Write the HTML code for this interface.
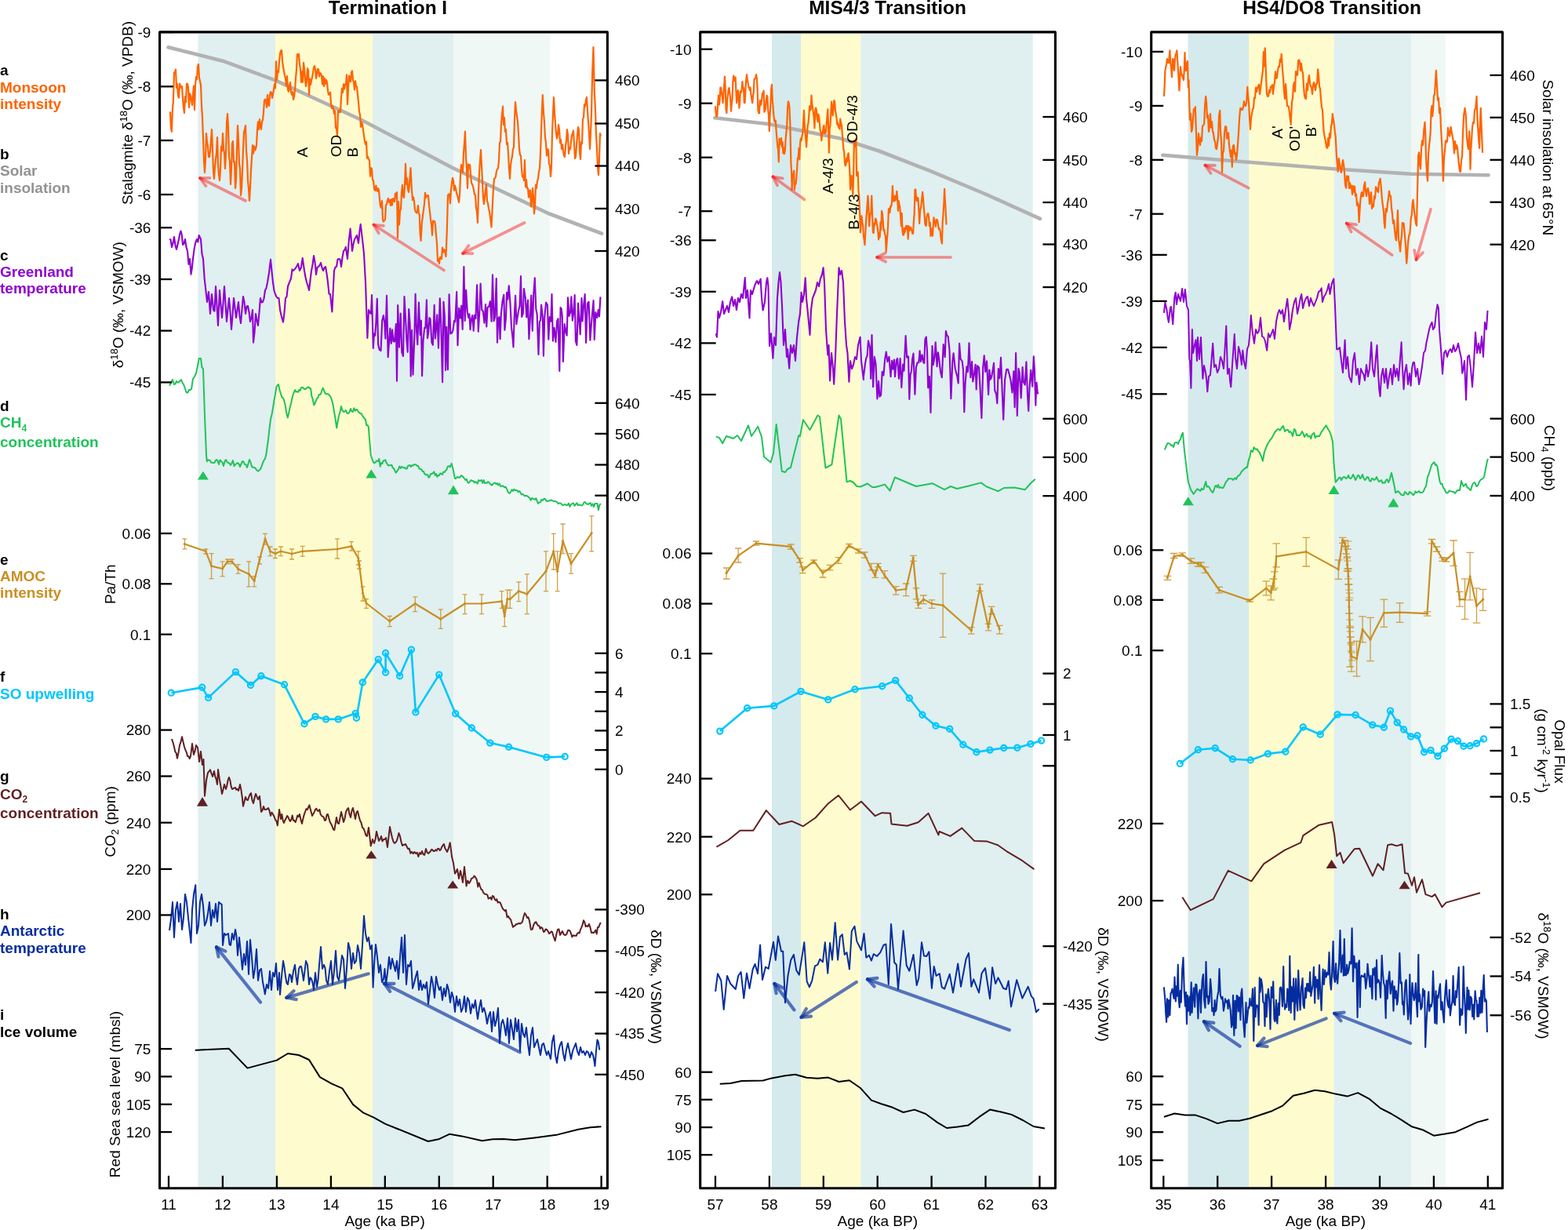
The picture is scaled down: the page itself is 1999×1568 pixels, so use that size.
<!DOCTYPE html>
<html><head><meta charset="utf-8"><title>Figure</title>
<style>html,body{margin:0;padding:0;background:#fff;}svg{display:block;}</style>
</head><body>
<svg xmlns="http://www.w3.org/2000/svg" width="1999" height="1568" viewBox="0 0 1999 1568" font-family='"Liberation Sans", Arial, Helvetica, sans-serif'>
<rect width="1999" height="1568" fill="#fff"/>
<rect x="252.4" y="42.8" width="98.6" height="1470" fill="#E0EFF0"/>
<rect x="351" y="42.8" width="124.1" height="1470" fill="#FEFCCE"/>
<rect x="475.1" y="42.8" width="102.9" height="1470" fill="#E0EFF0"/>
<rect x="578" y="42.8" width="123.2" height="1470" fill="#F0F8F6"/>
<rect x="984" y="42.8" width="37" height="1470" fill="#D5EAEC"/>
<rect x="1021" y="42.8" width="76.3" height="1470" fill="#FEFCCE"/>
<rect x="1097.3" y="42.8" width="219.4" height="1470" fill="#E0EFF0"/>
<rect x="1514.5" y="42.8" width="77.5" height="1470" fill="#D5EAEC"/>
<rect x="1592" y="42.8" width="108.6" height="1470" fill="#FEFCCE"/>
<rect x="1700.6" y="42.8" width="98.3" height="1470" fill="#E0EFF0"/>
<rect x="1798.9" y="42.8" width="44" height="1470" fill="#F0F8F6"/>
<path d="M214.5 60.3 L284 77.7 L351 102.4 L461 153 L577 214 L699 272 L767 297.6" fill="none" stroke="#B2B2B2" stroke-width="4.6" stroke-linejoin="round" stroke-linecap="round"/>
<path d="M216 143 L217 143.3 L217.9 161.9 L218.9 167.7 L219.9 140.1 L220.9 129.4 L222 92.7 L223 92 L224 88.6 L225 112 L226 107 L227 122.2 L228 124.7 L229 106.6 L230 109.6 L231 111.7 L232 110 L233 125.4 L234 137.2 L235 144 L236 123.1 L237 130.1 L238 106.7 L239 107 L240 111.2 L241 136.9 L242 119.3 L243 121.9 L244 128 L245 133.9 L246 120.7 L247 109.5 L248 140 L249 108 L250 98.2 L251 101.2 L252 84.6 L253 82 L254 98.9 L255 103.4 L256 108 L257 134 L258 150 L259 176.4 L260 205 L261 220 L262 202.6 L263 170 L264 181.2 L265 186.1 L266 200 L267 200.1 L268 192.3 L269 178.8 L270 165 L271 190.5 L272 218.5 L273 228 L274 212.6 L275 203.1 L276 194.6 L277 175 L278 209.2 L279 223.2 L280 230 L281 215.8 L282 186.8 L283 192.3 L284 170 L285 189.6 L286 195.1 L287 215 L288 196.8 L289 156.7 L290 145 L291 161.6 L292 200.1 L293 206 L294 235 L295 215.6 L296 182.9 L297 180 L298 206.5 L299 206.3 L300 240 L301 229.5 L302 190.7 L303 160 L304 177.8 L305 208.8 L306 215 L307 249 L308 240.1 L309 218.9 L310 190 L311 168.2 L312 165.4 L313 160 L314 192.1 L315 204.5 L316 230 L317 240.8 L318 256 L319 239 L320 217.4 L321 201.2 L322 185 L323 195.7 L324 186.3 L325 191.3 L326 190 L327 185.1 L328 165.9 L329 155.4 L330 165 L331 152 L332 161.2 L333 164.8 L334 155 L335 153.1 L336 143 L337 128.1 L338 126.7 L339 127 L340 136.9 L341 121 L342 133 L343 135 L344 121 L345 117.2 L346 118 L347 125 L348 120.3 L349 113.8 L350 107.2 L351 112.5 L352 78.4 L353 102 L354 90 L355 92.3 L356 79 L357 68.6 L358 64.7 L359 64.2 L360 78.2 L361 85 L362 91 L363 96.2 L364 100 L365 108.8 L366 97.2 L367 115 L368 116.6 L369 110.5 L370 105 L371 117 L372 120.7 L373 117.1 L374 127 L375 123 L376 114.7 L377 100 L378 88.4 L379 69.1 L380 71.8 L381 69 L382 82.6 L383 87.7 L384 105 L385 91.3 L386 104.6 L387 80 L388 88.2 L389 101.3 L390 110 L391 102 L392 87.1 L393 90 L394 120.7 L395 100.6 L396 108 L397 102.9 L398 98.3 L399 93.1 L400 86 L401 84.2 L402 88.4 L403 100 L404 94.3 L405 88 L406 88 L407 97.6 L408 93 L409 93.9 L410 97 L411 107.3 L412 97.4 L413 110 L414 100.1 L415 107 L416 102 L417 105 L418 115.9 L419 120.7 L420 120 L421 117.7 L422 133.4 L423 138.1 L424 135 L425 138.5 L426 144.9 L427 141.2 L428 162.2 L429 165 L430 172.3 L431 141.3 L432 143.6 L433 140 L434 143 L435 124.3 L436 112.9 L437 118 L438 107.3 L439 113.4 L440 107.5 L441 107 L442 95.3 L443 133 L444 112 L445 96.6 L446 100.9 L447 104.1 L448 92 L449 90.5 L450 102.1 L451 105 L452 114.5 L453 103.3 L454 110 L455 110.6 L456 120.9 L457 130 L458 142.4 L459 146.3 L460 161.7 L461 156 L462 158.1 L463 166.1 L464 172.8 L465 180 L466 184.1 L467 180.5 L468 201.8 L469 200 L470 202.6 L471 204.8 L472 224.7 L473 214 L474 215.4 L475 229.5 L476 230 L477.2 241.5 L478.5 243 L479.4 236.6 L480.2 242.3 L481.1 243.8 L482 240 L483 242.7 L484 254.1 L485 263.1 L486 265 L487 256.2 L488 280.1 L489 282.6 L490 281 L491 279.9 L492 261.2 L493 260.2 L494 255 L495 253 L496 257.8 L497 255.1 L498 262 L499 254.1 L500 261.4 L501 253 L502 255 L503 257.1 L504 246.7 L505 252.1 L506 245 L507 303.2 L508 257.2 L509 286.3 L510 268 L511 266.9 L512 245.4 L513 235.9 L514 250 L515 251.9 L516 236.6 L517 208.8 L518 235 L519 227.4 L520 241.3 L521 245 L522.2 231.6 L523.5 214 L524.8 239.8 L526 255 L527 251.3 L528 256.8 L529 268 L530 270 L531 271.4 L532 270.7 L533 262 L533.9 272 L534.8 273.8 L535.7 298.4 L536.6 307 L537.8 284.1 L539 275 L540 267.7 L541 259.7 L542 245.8 L543 252 L544 250.1 L545 249 L546 249.4 L547 261.9 L548 270 L549 279.9 L550 286.4 L551 300 L552 281.6 L553 281.8 L554 282 L555 286.8 L556 299.9 L557 310 L558 333 L559 330 L560 336 L561 327.9 L562 328.2 L563 330 L564 315.6 L565 321.6 L566 318 L567.2 320.1 L568.5 327 L569.8 294.1 L571 249 L572 247.7 L573 247.3 L574 259.3 L575 242 L576 233.5 L577 226.9 L578 230 L579 242.7 L580 236.7 L581 240 L582 245.9 L583 248.8 L584 252.9 L585 258 L586 248.6 L587 223.9 L588 210 L589 217.1 L590 220 L591 195.2 L592 182.7 L593 167.7 L594 201.1 L595 215.2 L596 240 L597 209.4 L598 213.7 L599 210 L600 222.3 L601 232.9 L602 235 L603 237.6 L604 242.2 L605 248 L606 248.4 L607 264.5 L608 270.3 L609 284 L610 245.1 L611 220 L612 205.2 L613 191 L614 210.7 L615 231.5 L616 251.8 L617 260 L618 251.6 L619 241.2 L620 235 L621 256.4 L622 258.8 L623 266 L624 270 L625.2 278.9 L626.5 289.5 L627.8 263.5 L629 240 L630 227.8 L631 227.4 L632 225 L633 218.1 L634 215.6 L635 214.7 L636 205 L637 182.1 L638 180.7 L639 157.5 L640 146.2 L641 135.7 L642 159.1 L643 150.1 L644 168 L645 165 L646 184 L647 181.7 L648 195 L649 215.5 L650 228 L651 210.8 L652 204 L653 199.6 L654 190 L655 188.1 L656 152.2 L657 130 L658 140.6 L659 147.8 L660 155.1 L661 170 L662 189.6 L663 197.5 L664 198.6 L665 215 L666 225.3 L667 224.1 L668 230 L669 204 L670 238.3 L671 229 L672 240 L673 240.2 L674 251.7 L675 242.9 L676 242.6 L677 263.4 L678 258.6 L679 239.8 L680 250 L681 272.5 L682 262.5 L683 235.6 L684 240 L685 230.8 L686 227.9 L687 218.7 L688 215 L689 196.3 L689.9 170.7 L690.8 143.8 L691.8 121 L692.9 142.5 L693.9 154.8 L695 175 L696 182.4 L697 198.4 L698 190 L699 191.2 L700 209.3 L701 211 L702 225 L703 212.4 L704 169 L705 145.1 L706 124 L707 144 L708 157.5 L709 170 L710 176.6 L711 171.8 L712 159.1 L713 165 L714 182.2 L715 178.1 L716 190 L717 184.4 L718 192.7 L719 198.3 L720 200 L721 186.1 L722 179 L723 165 L724 172.6 L725 195.8 L726 188.4 L727 190 L728 180.4 L729 172.7 L730 170 L731 166.5 L732 183.5 L733 202 L734 200 L735 185.4 L736 172.8 L737 162 L738 165.6 L739 193.8 L740 203 L741 181.2 L742 183.3 L743 151.5 L744 150 L745 133.4 L746 135.5 L747 127.3 L748 124 L749 141.3 L750 155 L751 169.7 L752 190 L753 170.3 L754 145 L755.2 92.2 L756.5 60 L757.8 116.6 L759 140 L760 172.1 L761 190 L762 212.7 L763 223 L764 203.2 L765 170 L766 173.5" fill="none" stroke="#FF6400" stroke-width="2.2" stroke-linejoin="round" />
<path d="M216 304.7 L217.5 305.5 L219 315 L220.5 310.1 L222 302 L223.5 312.9 L225 318 L226.5 311.7 L228 305 L229.2 298.3 L230.5 294.5 L231.8 299.5 L233 312 L234.5 310.5 L236 305 L237.5 315.1 L239 320 L240.5 336.9 L242 330 L243.5 349.6 L244.8 341.8 L246 330 L247.5 318.4 L249 310 L251 305 L252.3 308.5 L253.7 300 L256 305 L257.5 323.7 L259 330 L260.7 355.7 L262.4 370 L264 385 L266 372 L268 400 L270 375 L272 395 L273.5 396.7 L275 365 L276.5 389.4 L278 415 L280 370 L281.5 389.2 L283 405 L284.5 386.9 L286 365 L287.5 387.2 L289 410 L290.5 394.1 L292 380 L293.5 397.5 L295 420 L296.5 401.8 L298 380 L299.5 391.9 L301 405 L302.5 395.5 L304 385 L305.5 402.9 L307 412 L308.5 394.3 L310 378 L311.5 385.2 L313 400 L314.5 390.8 L316 390 L317.5 397.7 L319 410 L320.5 405.2 L322 395 L323 436.7 L324.5 423.8 L326 400 L327.5 408.5 L329 415 L330.5 398.1 L332 380 L333.5 385.6 L335 385 L336.5 380.5 L338 370 L339.5 367.3 L341 360 L343 347.7 L345 330.8 L346.5 346 L348 360 L349.5 370.7 L351 375 L352.5 378.6 L354 380 L355.5 380 L357 395 L359 403.9 L361 410.6 L362.5 398.7 L364 380 L365.5 378.4 L367 365 L369 359.9 L371 355 L372.5 343.4 L374 345 L376 342.9 L378 340 L380 336.2 L382 345 L383.9 341 L385.7 329 L388 345 L389.5 353.5 L391 360 L392.5 364.3 L394 370 L395.5 357.5 L397 345 L398.5 337.6 L400 326 L401.5 334.3 L403 350 L404.5 340.8 L406 340 L407.5 338.1 L409 335 L410.5 341.4 L412 345 L413.5 341.4 L415 340 L416.5 348.7 L418 360 L419.5 374.6 L421 375 L423.4 397.5 L424.7 370.7 L426 345 L427.5 340.5 L429 340 L430.5 330.7 L432 330 L433.5 330.8 L435 340 L436.5 328 L438 320 L439.4 318.5 L440.8 314.8 L443 330 L444.8 306.9 L446.6 291.6 L449 320 L450.5 311 L452 305 L453.5 302.7 L455 300 L457 310 L458.4 294.8 L459.7 285.8 L462 305 L464 323.5 L466 360 L468.4 430.9 L470 395 L471.5 398.5 L473 400 L474 376 L475.8 443.9 L477 425.4 L478.1 427.9 L479.3 413.2 L480.8 380.8 L482.1 439.2 L483.8 445.9 L485.5 447.2 L487.2 409.1 L488.9 402.1 L490.3 411.6 L491.4 431.6 L493 376.8 L494.7 455.3 L495.9 438.1 L497.3 418.6 L498.7 437.9 L500.1 420.3 L501.5 435.3 L503 435.4 L504.9 413 L506 485.7 L507.2 389 L508.9 442.7 L510.7 399.5 L512.3 449.2 L514 454.1 L515.5 378 L517.2 408.8 L518.4 433.1 L519.7 448.8 L521.2 394 L522.6 412.5 L523.7 479.6 L525 420.9 L526.5 477.7 L528.3 431.3 L529.6 374.7 L531 420.5 L532.3 439.2 L533.9 385.6 L535.6 427 L536.9 408.6 L538.1 479.3 L539.5 434.4 L541.2 417.9 L542.4 418.2 L543.9 382.4 L545 431.2 L546.1 424.3 L547.5 405 L548.6 407.1 L550.5 437.1 L551.9 439.8 L553.7 388.8 L554.9 431.4 L556 419 L557.3 401.3 L559 443.7 L560.8 380.4 L562.3 413.5 L564.1 487.3 L565.5 384.8 L567 404.8 L568.1 471.9 L569.2 416.9 L570.9 471.3 L572.6 375.2 L574.3 425.4 L576 424.5 L577.4 421.4 L579.1 408.9 L580.3 410.2 L582.2 372 L583.5 440.3 L585.2 392.7 L587 405.7 L588.2 389.7 L589.7 419.9 L591.4 340 L592.7 408.9 L594.2 369.7 L595.8 397.2 L597.2 404.9 L598.4 400.4 L599.5 420.2 L600.7 407.8 L602.3 402.1 L603.7 421.8 L605 401.8 L606.4 406.1 L608.1 363.2 L609.8 422.6 L611.4 395.7 L612.6 361.6 L614.3 395.3 L615.8 396.6 L617.5 411.7 L619 388 L620.3 416.4 L621.6 391.9 L623.4 390.6 L624.9 384.1 L626.6 409.7 L628 350.4 L629.6 409.2 L630.9 404.4 L632.8 355 L634 436.7 L635.1 407.2 L636.4 404.1 L637.6 432.2 L638.8 400.7 L640.6 383.7 L642.3 375.8 L643.4 420.8 L644.9 406.5 L646.1 372.8 L647.3 381.7 L648.8 364.2 L650.5 387 L652 417.4 L653.3 428.1 L654.5 442.5 L655.6 407.4 L657.1 376.7 L658.4 413.2 L659.4 406 L661.1 395.9 L662.5 390.2 L664 352 L665.2 403.9 L666.8 399.5 L667.9 368 L669.8 379.9 L671.3 404.4 L673 382.5 L674.4 432.1 L675.8 406.3 L677.3 376.5 L678.8 421.6 L680.2 375.5 L681.8 354.4 L683.3 393.8 L684.7 400.9 L686.5 452 L687.9 409.9 L689.1 408.6 L690.1 388.6 L691.9 405.1 L692.9 453.7 L694.3 404.2 L696.1 385.5 L697.9 388.8 L699.3 432.8 L700.8 404 L702.4 409.6 L703.5 375 L704.9 434.6 L706.6 417.8 L708.5 435.9 L710.2 408.9 L711.5 406.3 L713.3 472.9 L714.6 392.1 L715.7 393.6 L716.8 403 L717.9 460.9 L719.7 413.1 L721.6 423.9 L722.7 427.6 L724 379.2 L725.5 403 L727.1 398.3 L728.4 378.4 L729.8 408.6 L731 400.4 L732.7 376 L733.9 435.3 L735.4 440 L737.1 386.5 L738.5 409.1 L739.7 426.3 L741.5 380 L742.6 409.5 L744.2 388 L745.7 375 L747.1 436.9 L748.9 386.7 L750.6 384.8 L752.4 433.6 L753.9 413.1 L755 400.4 L756.6 383 L757.8 432.9 L759.3 398.1 L761.2 405 L762.8 395.1 L764 403.5 L765.5 378.4" fill="none" stroke="#8E00D0" stroke-width="2.1" stroke-linejoin="round" />
<path d="M216 491.8 L218 488 L220 484 L222 490 L223.5 489.5 L225 486 L226.5 487.7 L228 487 L229.5 485.4 L231 484 L232.5 487.9 L234 490 L235.8 494.7 L237.7 500.5 L239.3 500.5 L241 497 L242.5 497.1 L244 496 L246 483 L248 480 L250 476 L251.8 467.1 L253.7 457 L254.8 456.9 L256 457 L257.5 468.5 L259 470 L261 530 L263 580 L263.8 588.2 L265.2 586.1 L266.6 586.8 L268 587 L269.3 589.8 L270.7 589.8 L272 590 L273.3 589.9 L274.7 587.2 L276 586 L277.5 587.1 L279 592 L280.5 586.5 L282 588 L283.5 589.6 L285 594 L286.5 587.9 L288 586 L289.5 589 L291 590 L292.5 590.5 L294 593 L295.5 590.4 L297 587 L298.5 594.3 L300 592 L301.5 591.2 L303 590 L304.5 591.4 L306 595 L307.5 591.5 L309 588 L310.5 588.6 L312 592 L313.5 592.2 L315 596 L316.5 591.2 L318 586 L319.5 589.2 L321 595 L322.5 595.8 L324 596 L325.5 596.6 L327 599 L329 600.7 L330.5 599.5 L332 598 L333.5 594.6 L335 590 L336.4 586.8 L337.9 584.9 L339.3 579.5 L340.6 570 L342 560 L343.5 546.4 L345 534.5 L346.5 528.5 L348 520 L349.4 510.8 L350.9 502.9 L352.3 493.3 L353.6 491.5 L355 490 L356.5 497.2 L358 502 L359.3 506.3 L360.7 507.2 L362 510 L363.6 516.1 L365.2 526.6 L366.8 532.4 L368.4 525.5 L370 518 L371.5 512.3 L373 505 L374.5 501 L376 497 L377.3 499.6 L378.7 499.1 L380 500 L381.3 496.9 L382.7 497.9 L384 494 L385.3 494 L386.7 494.5 L388 496 L389.3 496.2 L390.7 494.8 L392 494 L393.3 493.3 L394.7 494.7 L396 495 L397.4 505 L398.8 509.3 L400.2 516.5 L401.5 514.2 L402.7 511.4 L404 508 L405.3 507.1 L406.7 503.1 L408 503 L409.3 501.7 L410.5 496.9 L411.8 494.7 L413.4 499 L415 502 L416.3 502.2 L417.7 502 L419 503 L420.3 504.3 L421.7 506.3 L423 510 L424.5 515.6 L426 525 L427.6 534 L429.2 545.5 L430.6 537.6 L432 530 L433.5 525.3 L435 518 L436.5 523.2 L438 525 L439.5 524.7 L441 523 L442.5 527 L444 527 L445.5 525.4 L447 521 L448.5 524.6 L450 525 L451.3 520.3 L452.7 523.6 L454 522 L455.3 522.3 L456.7 524.6 L458 526 L459.3 527.3 L460.7 527.2 L462 530 L463.3 531.7 L464.7 533.4 L466 535 L467.3 542.2 L468.5 541.9 L469.8 544 L471 560 L472.7 580 L473.9 583.5 L475 587 L476.8 590.2 L478.5 589.6 L480.2 587.4 L482 588 L483.3 585 L484.7 594.7 L486 590 L487.3 591.1 L488.7 587.4 L490 587 L491.3 586.4 L492.7 590 L494 592 L495.3 593.5 L496.7 593.2 L498 593 L499.3 592.7 L500.7 596.5 L502 597 L503.3 599.9 L504.6 602.7 L506.3 600.6 L508 598 L509.3 594.5 L510.7 596.9 L512 595 L513.3 595.4 L514.7 596.6 L516 596 L517.3 597.4 L518.7 597.6 L520 594 L521.3 593.5 L522.7 593 L524 595 L525.3 593.2 L526.7 593.4 L528 592 L529.3 592.4 L530.7 592.6 L532 594 L533.3 594.1 L534.7 597.7 L536 598 L537.3 598.2 L538.7 601.1 L540 601 L541.3 604.1 L542.7 605.2 L544 605 L545.3 605.3 L546.7 608.9 L548 607 L549.3 603.9 L550.7 604.1 L552 603 L553.3 601.3 L554.7 605.9 L556 604 L557.3 607.9 L558.7 605.8 L560 606 L561.3 603.5 L562.7 604 L564 605 L565.3 601.7 L566.7 601.9 L568 600 L569.3 598.9 L570.7 594.8 L572 594 L573.9 595.4 L575.7 591 L576.9 595.5 L578 600 L580 610 L581.3 609.9 L582.7 608.2 L584 608 L585.3 609.1 L586.7 608.2 L588 606 L589.3 606.8 L590.7 608.3 L592 610 L593.4 612 L594.8 610.8 L596.1 614.7 L597.5 615.7 L599 614 L600.5 612 L602 613 L603.3 612.9 L604.7 615.3 L606 614 L607.3 615.1 L608.7 616.7 L610 612 L611.3 613 L612.7 612.7 L614 612 L615.3 615.9 L616.7 612 L618 616 L619.3 615.5 L620.7 615.8 L622 614 L623.3 615.1 L624.7 616.5 L626 618 L627.3 618.6 L628.7 616.4 L630 616 L631.3 615.4 L632.7 617.1 L634 616 L635.3 618.4 L636.7 616.6 L638 620 L639.3 619.8 L640.7 619.3 L642 620 L643.3 621.3 L644.7 620.8 L646 623 L647.9 627.8 L649.7 628.8 L651.1 627 L652.6 624.2 L654 626 L655.3 623.9 L656.7 624.9 L658 625 L659.3 625.1 L660.7 627.3 L662 626 L663.3 627.4 L664.7 630.4 L666 630 L667.3 630.6 L668.7 632.2 L670 632 L671.3 632.1 L672.7 632.5 L674 634 L675.3 634.9 L676.7 637.7 L678 635 L679.3 635.7 L680.7 636.2 L682 637 L683.4 635 L684.7 638.7 L686 641.9 L687.4 640.4 L688.9 640.4 L690.5 636.7 L692 638 L693.5 635.7 L695 635.9 L696.5 638.6 L698 639 L699.5 638.6 L701 638.3 L702.5 637.4 L704 638 L705.5 639 L707 639.1 L708.5 639.3 L710 640 L711.6 642.1 L713.2 641.3 L714.8 641.6 L716.4 643.3 L717.8 644.2 L719.2 643.4 L720.6 642.9 L722 644 L723.5 644 L725 641.5 L726.5 645.9 L728 643 L729.5 642.1 L731 641.5 L732.5 644.8 L734 643 L735.5 641.2 L737 644.2 L738.5 643.4 L740 644 L741.5 644.4 L743 643.7 L744.5 640.4 L746 640 L747.3 642.2 L748.7 642.4 L750 643 L751.3 641.6 L752.7 641.1 L754 644.8 L755.5 642.3 L757 646.1 L758.5 641.9 L760 642 L761.5 641.9 L762.9 650.2 L764.3 644 L765.8 641.9" fill="none" stroke="#20C35A" stroke-width="2.0" stroke-linejoin="round" />
<path d="M235.4 693.5 L262.4 702.8 L269.6 721.6 L283.6 725 L290 715.8 L295.7 715.8 L303.6 725.4 L317.2 731.8 L324.2 740.5 L331 713 L338 686.8 L344.5 702.8 L350.9 705.7 L358 702.8 L372 706 L385.7 702.8 L430 700 L448 696.4 L456.8 711.5 L458 720 L462.6 756.5 L467 769 L496.8 792 L529.3 769.5 L561.8 789.3 L592.6 769.5 L614 769.5 L639.6 766.6 L643.3 785.5 L646.8 763.7 L650.3 763.7 L661.3 753.6 L671.8 757.3 L696 728.3 L705.7 702.8 L710.6 728.3 L717.6 689.7 L728 718.7 L754.2 679.6" fill="none" stroke="#C98F24" stroke-width="2.2" stroke-linejoin="round" />
<path d="M235.4 686.8 V699.9 M232.4 686.8 h6 M232.4 699.9 h6" stroke="#C98F24" stroke-width="1.3" fill="none" opacity="0.85"/>
<circle cx="235.4" cy="693.5" r="1.6" fill="#C98F24"/>
<path d="M262.4 700 V706 M259.4 700 h6 M259.4 706 h6" stroke="#C98F24" stroke-width="1.3" fill="none" opacity="0.85"/>
<circle cx="262.4" cy="702.8" r="1.6" fill="#C98F24"/>
<path d="M269.6 705.7 V737.6 M266.6 705.7 h6 M266.6 737.6 h6" stroke="#C98F24" stroke-width="1.3" fill="none" opacity="0.85"/>
<circle cx="269.6" cy="721.6" r="1.6" fill="#C98F24"/>
<path d="M283.6 715.8 V734.7 M280.6 715.8 h6 M280.6 734.7 h6" stroke="#C98F24" stroke-width="1.3" fill="none" opacity="0.85"/>
<circle cx="283.6" cy="725" r="1.6" fill="#C98F24"/>
<path d="M290 713 V718.7 M287 713 h6 M287 718.7 h6" stroke="#C98F24" stroke-width="1.3" fill="none" opacity="0.85"/>
<circle cx="290" cy="715.8" r="1.6" fill="#C98F24"/>
<path d="M295.7 713 V718.7 M292.7 713 h6 M292.7 718.7 h6" stroke="#C98F24" stroke-width="1.3" fill="none" opacity="0.85"/>
<circle cx="295.7" cy="715.8" r="1.6" fill="#C98F24"/>
<path d="M303.6 719.6 V731.2 M300.6 719.6 h6 M300.6 731.2 h6" stroke="#C98F24" stroke-width="1.3" fill="none" opacity="0.85"/>
<circle cx="303.6" cy="725.4" r="1.6" fill="#C98F24"/>
<path d="M317.2 715.8 V747.8 M314.2 715.8 h6 M314.2 747.8 h6" stroke="#C98F24" stroke-width="1.3" fill="none" opacity="0.85"/>
<circle cx="317.2" cy="731.8" r="1.6" fill="#C98F24"/>
<path d="M324.2 734.7 V747.8 M321.2 734.7 h6 M321.2 747.8 h6" stroke="#C98F24" stroke-width="1.3" fill="none" opacity="0.85"/>
<circle cx="324.2" cy="740.5" r="1.6" fill="#C98F24"/>
<path d="M331 710 V719 M328 710 h6 M328 719 h6" stroke="#C98F24" stroke-width="1.3" fill="none" opacity="0.85"/>
<circle cx="331" cy="713" r="1.6" fill="#C98F24"/>
<path d="M338 680.4 V694 M335 680.4 h6 M335 694 h6" stroke="#C98F24" stroke-width="1.3" fill="none" opacity="0.85"/>
<circle cx="338" cy="686.8" r="1.6" fill="#C98F24"/>
<path d="M344.5 697 V708.6 M341.5 697 h6 M341.5 708.6 h6" stroke="#C98F24" stroke-width="1.3" fill="none" opacity="0.85"/>
<circle cx="344.5" cy="702.8" r="1.6" fill="#C98F24"/>
<path d="M350.9 700 V711.5 M347.9 700 h6 M347.9 711.5 h6" stroke="#C98F24" stroke-width="1.3" fill="none" opacity="0.85"/>
<circle cx="350.9" cy="705.7" r="1.6" fill="#C98F24"/>
<path d="M358 697 V708.6 M355 697 h6 M355 708.6 h6" stroke="#C98F24" stroke-width="1.3" fill="none" opacity="0.85"/>
<circle cx="358" cy="702.8" r="1.6" fill="#C98F24"/>
<path d="M372 700 V713 M369 700 h6 M369 713 h6" stroke="#C98F24" stroke-width="1.3" fill="none" opacity="0.85"/>
<circle cx="372" cy="706" r="1.6" fill="#C98F24"/>
<path d="M385.7 696.4 V709.2 M382.7 696.4 h6 M382.7 709.2 h6" stroke="#C98F24" stroke-width="1.3" fill="none" opacity="0.85"/>
<circle cx="385.7" cy="702.8" r="1.6" fill="#C98F24"/>
<path d="M430 686.8 V712 M427 686.8 h6 M427 712 h6" stroke="#C98F24" stroke-width="1.3" fill="none" opacity="0.85"/>
<circle cx="430" cy="700" r="1.6" fill="#C98F24"/>
<path d="M448 690.6 V702.2 M445 690.6 h6 M445 702.2 h6" stroke="#C98F24" stroke-width="1.3" fill="none" opacity="0.85"/>
<circle cx="448" cy="696.4" r="1.6" fill="#C98F24"/>
<path d="M456.8 702.8 V720 M453.8 702.8 h6 M453.8 720 h6" stroke="#C98F24" stroke-width="1.3" fill="none" opacity="0.85"/>
<circle cx="456.8" cy="711.5" r="1.6" fill="#C98F24"/>
<path d="M458 715 V725 M455 715 h6 M455 725 h6" stroke="#C98F24" stroke-width="1.3" fill="none" opacity="0.85"/>
<circle cx="458" cy="720" r="1.6" fill="#C98F24"/>
<path d="M462.6 747.8 V766 M459.6 747.8 h6 M459.6 766 h6" stroke="#C98F24" stroke-width="1.3" fill="none" opacity="0.85"/>
<circle cx="462.6" cy="756.5" r="1.6" fill="#C98F24"/>
<path d="M467 763.7 V775.3 M464 763.7 h6 M464 775.3 h6" stroke="#C98F24" stroke-width="1.3" fill="none" opacity="0.85"/>
<circle cx="467" cy="769" r="1.6" fill="#C98F24"/>
<path d="M496.8 785.5 V798.6 M493.8 785.5 h6 M493.8 798.6 h6" stroke="#C98F24" stroke-width="1.3" fill="none" opacity="0.85"/>
<circle cx="496.8" cy="792" r="1.6" fill="#C98F24"/>
<path d="M529.3 760.8 V779.7 M526.3 760.8 h6 M526.3 779.7 h6" stroke="#C98F24" stroke-width="1.3" fill="none" opacity="0.85"/>
<circle cx="529.3" cy="769.5" r="1.6" fill="#C98F24"/>
<path d="M561.8 776.8 V801.4 M558.8 776.8 h6 M558.8 801.4 h6" stroke="#C98F24" stroke-width="1.3" fill="none" opacity="0.85"/>
<circle cx="561.8" cy="789.3" r="1.6" fill="#C98F24"/>
<path d="M592.6 757.9 V782.6 M589.6 757.9 h6 M589.6 782.6 h6" stroke="#C98F24" stroke-width="1.3" fill="none" opacity="0.85"/>
<circle cx="592.6" cy="769.5" r="1.6" fill="#C98F24"/>
<path d="M614 757.9 V782.6 M611 757.9 h6 M611 782.6 h6" stroke="#C98F24" stroke-width="1.3" fill="none" opacity="0.85"/>
<circle cx="614" cy="769.5" r="1.6" fill="#C98F24"/>
<path d="M639.6 753.6 V775.3 M636.6 753.6 h6 M636.6 775.3 h6" stroke="#C98F24" stroke-width="1.3" fill="none" opacity="0.85"/>
<circle cx="639.6" cy="766.6" r="1.6" fill="#C98F24"/>
<path d="M643.3 772.4 V798.6 M640.3 772.4 h6 M640.3 798.6 h6" stroke="#C98F24" stroke-width="1.3" fill="none" opacity="0.85"/>
<circle cx="643.3" cy="785.5" r="1.6" fill="#C98F24"/>
<path d="M646.8 752.1 V775.3 M643.8 752.1 h6 M643.8 775.3 h6" stroke="#C98F24" stroke-width="1.3" fill="none" opacity="0.85"/>
<circle cx="646.8" cy="763.7" r="1.6" fill="#C98F24"/>
<path d="M650.3 752.1 V775.3 M647.3 752.1 h6 M647.3 775.3 h6" stroke="#C98F24" stroke-width="1.3" fill="none" opacity="0.85"/>
<circle cx="650.3" cy="763.7" r="1.6" fill="#C98F24"/>
<path d="M661.3 741.9 V766.6 M658.3 741.9 h6 M658.3 766.6 h6" stroke="#C98F24" stroke-width="1.3" fill="none" opacity="0.85"/>
<circle cx="661.3" cy="753.6" r="1.6" fill="#C98F24"/>
<path d="M671.8 731.8 V782.6 M668.8 731.8 h6 M668.8 782.6 h6" stroke="#C98F24" stroke-width="1.3" fill="none" opacity="0.85"/>
<circle cx="671.8" cy="757.3" r="1.6" fill="#C98F24"/>
<path d="M696 702.8 V753.6 M693 702.8 h6 M693 753.6 h6" stroke="#C98F24" stroke-width="1.3" fill="none" opacity="0.85"/>
<circle cx="696" cy="728.3" r="1.6" fill="#C98F24"/>
<path d="M705.7 680.4 V726 M702.7 680.4 h6 M702.7 726 h6" stroke="#C98F24" stroke-width="1.3" fill="none" opacity="0.85"/>
<circle cx="705.7" cy="702.8" r="1.6" fill="#C98F24"/>
<path d="M710.6 702.8 V753.6 M707.6 702.8 h6 M707.6 753.6 h6" stroke="#C98F24" stroke-width="1.3" fill="none" opacity="0.85"/>
<circle cx="710.6" cy="728.3" r="1.6" fill="#C98F24"/>
<path d="M717.6 668 V705.7 M714.6 668 h6 M714.6 705.7 h6" stroke="#C98F24" stroke-width="1.3" fill="none" opacity="0.85"/>
<circle cx="717.6" cy="689.7" r="1.6" fill="#C98F24"/>
<path d="M728 705.7 V731.2 M725 705.7 h6 M725 731.2 h6" stroke="#C98F24" stroke-width="1.3" fill="none" opacity="0.85"/>
<circle cx="728" cy="718.7" r="1.6" fill="#C98F24"/>
<path d="M754.2 657.8 V702.8 M751.2 657.8 h6 M751.2 702.8 h6" stroke="#C98F24" stroke-width="1.3" fill="none" opacity="0.85"/>
<circle cx="754.2" cy="679.6" r="1.6" fill="#C98F24"/>
<path d="M218.3 883.3 L257.7 876.3 L265.6 889.4 L300.4 856.6 L319.5 873.4 L332.9 861.8 L362.5 872.8 L388 922.7 L402 913.4 L415.6 916.9 L431.2 916.9 L453.3 909.4 L454.5 915.2 L462.3 869.9 L482.3 840.6 L491.6 857.2 L491.6 832.5 L509.6 861.8 L524.4 828.1 L529.9 907.9 L559.8 860.1 L580.7 909.7 L601.3 928 L624.8 947.1 L648.6 952.3 L696.7 965.4 L720.2 964.5" fill="none" stroke="#00C6FC" stroke-width="2.6" stroke-linejoin="round" />
<circle cx="218.3" cy="883.3" r="3.6" fill="none" stroke="#00C6FC" stroke-width="2.2"/>
<circle cx="257.7" cy="876.3" r="3.6" fill="none" stroke="#00C6FC" stroke-width="2.2"/>
<circle cx="265.6" cy="889.4" r="3.6" fill="none" stroke="#00C6FC" stroke-width="2.2"/>
<circle cx="300.4" cy="856.6" r="3.6" fill="none" stroke="#00C6FC" stroke-width="2.2"/>
<circle cx="319.5" cy="873.4" r="3.6" fill="none" stroke="#00C6FC" stroke-width="2.2"/>
<circle cx="332.9" cy="861.8" r="3.6" fill="none" stroke="#00C6FC" stroke-width="2.2"/>
<circle cx="362.5" cy="872.8" r="3.6" fill="none" stroke="#00C6FC" stroke-width="2.2"/>
<circle cx="388" cy="922.7" r="3.6" fill="none" stroke="#00C6FC" stroke-width="2.2"/>
<circle cx="402" cy="913.4" r="3.6" fill="none" stroke="#00C6FC" stroke-width="2.2"/>
<circle cx="415.6" cy="916.9" r="3.6" fill="none" stroke="#00C6FC" stroke-width="2.2"/>
<circle cx="431.2" cy="916.9" r="3.6" fill="none" stroke="#00C6FC" stroke-width="2.2"/>
<circle cx="453.3" cy="909.4" r="3.6" fill="none" stroke="#00C6FC" stroke-width="2.2"/>
<circle cx="454.5" cy="915.2" r="3.6" fill="none" stroke="#00C6FC" stroke-width="2.2"/>
<circle cx="462.3" cy="869.9" r="3.6" fill="none" stroke="#00C6FC" stroke-width="2.2"/>
<circle cx="482.3" cy="840.6" r="3.6" fill="none" stroke="#00C6FC" stroke-width="2.2"/>
<circle cx="491.6" cy="857.2" r="3.6" fill="none" stroke="#00C6FC" stroke-width="2.2"/>
<circle cx="491.6" cy="832.5" r="3.6" fill="none" stroke="#00C6FC" stroke-width="2.2"/>
<circle cx="509.6" cy="861.8" r="3.6" fill="none" stroke="#00C6FC" stroke-width="2.2"/>
<circle cx="524.4" cy="828.1" r="3.6" fill="none" stroke="#00C6FC" stroke-width="2.2"/>
<circle cx="529.9" cy="907.9" r="3.6" fill="none" stroke="#00C6FC" stroke-width="2.2"/>
<circle cx="559.8" cy="860.1" r="3.6" fill="none" stroke="#00C6FC" stroke-width="2.2"/>
<circle cx="580.7" cy="909.7" r="3.6" fill="none" stroke="#00C6FC" stroke-width="2.2"/>
<circle cx="601.3" cy="928" r="3.6" fill="none" stroke="#00C6FC" stroke-width="2.2"/>
<circle cx="624.8" cy="947.1" r="3.6" fill="none" stroke="#00C6FC" stroke-width="2.2"/>
<circle cx="648.6" cy="952.3" r="3.6" fill="none" stroke="#00C6FC" stroke-width="2.2"/>
<circle cx="696.7" cy="965.4" r="3.6" fill="none" stroke="#00C6FC" stroke-width="2.2"/>
<circle cx="720.2" cy="964.5" r="3.6" fill="none" stroke="#00C6FC" stroke-width="2.2"/>
<path d="M218.9 942.2 L220.4 946 L222 952 L223.3 958.2 L224.7 960 L226 966.8 L227.5 959.6 L229 950 L230.5 945.9 L232 939.3 L233.5 945.8 L235 952 L236.3 955.9 L237.7 958.7 L239 964 L240.3 963.9 L241.7 967.2 L243 964 L245 948 L247 962 L248.5 957.6 L250 950 L252 953 L254 971 L256 958 L258 975 L259.5 968 L261 1014.7 L263 995 L265 985 L266.5 983.4 L268 981.3 L269.5 985.9 L271 990 L273 983 L274.3 989.9 L275.7 993.4 L277 1000 L278 981 L279.7 992.6 L281.3 1001.5 L283 1012 L284.5 1006.4 L286 1000 L288 1006 L289.3 1001.5 L290.7 994.2 L292 991 L293.3 994.7 L294.7 1002.6 L296 1006 L297.3 1005.3 L298.7 1004.4 L300 1004 L301.3 1006.8 L302.7 1005.8 L304 1008 L306 1000 L307.3 1006.2 L308.7 1015.9 L310 1027.8 L311.5 1022.1 L313 1016 L314.5 1019.5 L316 1020 L317.3 1016.2 L318.7 1012.7 L320 1011 L321.5 1020 L323 1024 L324.5 1017.2 L326 1012 L327.5 1015.7 L329 1019 L331 1015 L333 1035 L334.5 1033.1 L336 1028 L337.5 1032.1 L339 1032 L340.5 1031.3 L342 1030 L343.5 1033.6 L345 1040 L346.5 1035.7 L348 1038 L349.5 1040.8 L351 1045 L352.4 1046.7 L353.8 1052.4 L356 1032 L358 1044 L359.3 1038 L360.7 1046.1 L362 1049 L363.3 1045.7 L364.7 1043.3 L366 1040 L367.3 1041.4 L368.7 1044.8 L370 1047 L371.3 1045 L372.7 1039.5 L374 1046 L375.3 1046.1 L376.7 1048.2 L378 1044 L379.3 1039.4 L380.7 1041.2 L382 1038 L383.5 1045.1 L385 1050 L386.3 1043.9 L387.7 1038.6 L389 1035 L390.5 1031.1 L392 1032 L393.2 1028.9 L394.4 1026.3 L396.2 1033.3 L398 1040 L399.3 1037.8 L400.7 1035.1 L402 1032 L403.3 1030.8 L404.7 1033.3 L406 1034 L407.3 1032 L408.7 1038 L410 1040 L411.3 1040.8 L412.7 1041.9 L414 1046 L415.3 1045.3 L416.7 1038.4 L418 1038 L419.3 1043.1 L420.7 1048.1 L422 1050 L423.4 1053 L424.9 1057.1 L426.3 1058.2 L427.6 1050.4 L429 1042 L430.5 1049.4 L432 1050 L433.5 1042.8 L435 1035 L436.5 1041.1 L438 1048 L439.5 1043.7 L441 1035 L442.5 1031.9 L444 1030 L445.5 1037.7 L447 1042 L448.5 1033.6 L450 1030 L451.5 1036.8 L453 1044 L454.5 1035.7 L456 1034 L457.5 1040.5 L459 1046 L460.5 1048.8 L462 1055 L463.5 1056.1 L465 1060 L466.5 1064.9 L468 1066 L470 1055 L471.4 1067 L472.7 1078.5 L473.9 1074.5 L475 1070 L477 1075 L478.5 1070.3 L480 1060 L481.5 1066 L483 1072 L484.5 1069.8 L486 1066 L487.5 1072.4 L489 1070 L490.5 1070 L492 1068 L494 1080 L495.5 1066.7 L497 1054 L498.5 1061.6 L500 1068 L501.5 1072.9 L503 1075 L504.3 1074 L505.7 1072.2 L507 1068 L508.5 1062 L510 1066 L511.5 1073.2 L513 1078 L514.3 1076.7 L515.7 1077.1 L517 1076 L518.5 1078.9 L520 1082 L521.7 1081.8 L523.3 1087.8 L525 1085.8 L526.7 1088.3 L528.3 1086 L530 1088 L531.7 1086.8 L533.3 1092 L535 1087 L536.5 1089 L538 1085 L539.5 1089 L541.2 1089.9 L543 1082 L544.5 1086.5 L546 1088 L547.3 1086.7 L548.7 1085.4 L550 1083 L551.3 1083.3 L552.7 1085.1 L554 1085 L555.3 1083.3 L556.7 1084.5 L558 1082 L559.3 1081.7 L560.7 1084.1 L562 1083 L563.3 1079.6 L564.7 1077.5 L566 1076 L567.3 1081.2 L568.7 1083.6 L570 1086 L571.9 1081.4 L573.7 1074.2 L574.9 1082.6 L576 1092 L578 1100 L580 1113.7 L581.5 1111.2 L583 1108 L585 1120 L587 1110 L588.5 1116.6 L590 1125 L592 1105 L593.3 1116.5 L594.6 1129.6 L596.3 1122.6 L598 1126 L599.5 1123.8 L601 1120 L602.9 1119.2 L604.7 1116.6 L606.4 1118.6 L608 1122 L609.3 1130.5 L610.7 1125.6 L612 1130 L613.5 1133.9 L614.9 1134.6 L616.4 1138.3 L618.2 1139.7 L620 1140 L621.3 1140.8 L622.7 1145.6 L624 1145 L625.3 1144 L626.7 1146.8 L628 1142 L629.3 1142.9 L630.7 1146.3 L632 1148 L633.3 1146.2 L634.7 1150.6 L636 1150 L637.7 1150.7 L639.3 1154.7 L641 1158.6 L642.3 1159.7 L643.7 1161.2 L645 1160 L646.5 1169.3 L648 1168 L649.5 1170.7 L651 1172 L652.5 1177 L654 1181.9 L655.3 1180.5 L656.7 1180 L658 1178 L659.3 1178.2 L660.7 1177.3 L662 1177 L663.3 1177.5 L664.7 1176.7 L666 1175 L667.5 1168.5 L669 1164 L670.5 1166.2 L672 1170 L673.5 1169.2 L675 1174 L676.9 1185 L678.7 1184.8 L680.4 1178.8 L682 1176 L683.3 1175.3 L684.7 1178.2 L686 1180 L687.3 1180.2 L688.7 1184 L690 1182 L691.5 1183.3 L693 1188 L694.3 1187.4 L695.7 1184.5 L697 1185 L698.5 1186.8 L700 1190 L701.3 1189.3 L702.7 1187.4 L704 1188 L705.9 1194.5 L707.7 1199.3 L709.4 1190.8 L711 1185 L712.5 1184.5 L714 1192 L715.5 1189.4 L717 1187 L718.5 1190.9 L720 1192 L721.3 1191.9 L722.7 1190.1 L724 1186 L725.3 1185.7 L726.7 1186.9 L728 1190 L729.3 1194.5 L730.7 1192.2 L732 1193 L733.3 1192.6 L734.7 1193 L736 1190 L737.3 1189 L738.7 1189.6 L740 1185 L741.3 1182.4 L742.7 1178.6 L744 1173.2 L745.3 1175.8 L746.7 1181.2 L748 1180 L749.5 1181.1 L751 1178 L752.5 1182.3 L754 1189.1 L755.3 1188.7 L756.7 1189.4 L758 1188 L759.3 1185.7 L760.7 1190.5 L762 1182 L763.3 1182 L764.5 1178.7 L765.8 1176" fill="none" stroke="#601F22" stroke-width="2.0" stroke-linejoin="round" />
<path d="M216 1186.2 L218 1172 L220 1150 L222 1195 L224 1160 L226 1150 L228 1175 L230 1152 L232 1185 L234 1170 L236 1140 L238 1150 L240 1170 L241.8 1186.4 L243.5 1202 L245 1160 L247 1140 L248.2 1134 L249.3 1128.2 L251 1190 L253 1180 L255 1150 L257 1140 L259 1155 L261 1180 L263 1175 L265 1165 L267 1150 L269 1180 L271 1160 L273 1170 L275 1152 L277 1175 L279 1150 L280.9 1151.9 L282.7 1152.8 L284 1205 L286 1190 L288 1192 L289.5 1191 L291 1190 L292.5 1204 L294 1205 L296 1190 L298 1198 L300 1185 L301.5 1193.4 L303 1218 L305 1195 L307 1215 L309 1236 L311 1216 L313 1230 L315 1200 L317 1242 L319 1198 L321 1220 L323 1247 L325 1235 L327 1210 L329 1250 L331 1237 L333 1235 L335 1252 L336.4 1259.2 L337.8 1267.4 L340 1255 L342 1260 L344 1238 L346 1262 L348 1240 L350 1245 L352 1228 L354 1262 L356 1240 L357 1268 L359 1245 L361 1225 L362.5 1233 L364 1245 L365.5 1253.2 L367 1255 L369 1242 L370.5 1243 L372 1252 L374 1238 L376 1230 L377.5 1245.2 L379 1255 L381 1235 L382.5 1232.1 L384 1232 L385.5 1240.1 L387 1250 L388.5 1238 L390 1225 L392 1230 L394 1255 L395.5 1246.3 L397 1248 L398.5 1252.6 L400 1262 L402 1240 L404 1258 L405.5 1249.3 L407 1230 L409 1207 L411 1235 L413 1230 L414.5 1233.8 L416 1250 L418 1255 L420 1238 L422 1225 L424 1255 L426 1238 L428 1212 L430 1245 L432 1250 L434 1235 L436 1218 L438 1223 L440 1260 L442 1235 L444 1202 L446 1210 L448 1235 L450 1215 L452 1228 L454 1225 L456 1205 L458 1215 L460 1235 L462 1205 L464 1167.4 L466 1190 L468 1200 L470 1195 L472 1210 L474 1205 L475.6 1258.7 L477 1230 L479 1204 L481 1220 L483 1240 L485 1230 L487 1252 L489 1248 L490.5 1235 L492 1255 L494 1240 L496 1220 L498 1235 L500 1222 L502 1230 L504 1238 L506 1225 L508 1248 L510 1220 L512 1195 L514 1240 L516 1192 L518 1255 L520 1230 L522 1232 L524 1225 L526 1260 L528 1253 L530 1245 L532 1238 L534 1262 L536 1250 L538 1262 L540 1255 L542 1260 L544 1252 L546 1280 L548 1263 L550 1245 L552 1255 L554 1272 L556 1245 L558 1255 L560 1262 L562 1258 L564 1275 L566 1260 L568 1270 L570 1255 L572 1262 L574 1278 L576 1265 L578 1272 L580 1290 L582 1270 L584 1282 L586 1274 L588 1290 L590 1285 L592 1270 L594 1290 L596 1272 L598 1276 L600 1292 L602 1280 L604 1285 L606 1275 L607.5 1288.4 L609 1299 L611 1285 L613 1275 L615 1290 L617 1285 L619 1292 L621 1305 L623 1295 L625 1290 L627 1315 L629 1290 L631 1308 L633 1300 L635 1285 L637 1330 L639 1305 L641 1300 L643 1308 L645 1320 L647 1298 L649 1330 L651 1300 L653 1312 L655 1325 L657 1298 L659 1315 L661 1300 L663 1340 L665 1305 L667 1318 L669 1322 L671 1310 L673 1330 L675 1345 L677 1320 L679 1310 L681 1335 L683 1330 L685 1325 L687 1335 L689 1345 L691 1332 L693 1330 L695 1338 L697 1345 L699 1340 L700.5 1345.2 L702 1350 L704 1328 L706 1320 L708 1345 L710 1355 L712 1340 L714 1332 L716 1328 L718 1343 L720 1352 L722 1338 L724 1330 L726 1340 L728 1350 L730 1340 L732 1335 L734 1330 L736 1340 L738 1345 L740 1335 L742 1342 L744 1340 L746 1345 L748 1340 L750 1342 L752 1348 L754 1341 L756 1345 L757.2 1350.5 L758.5 1359 L760 1340 L761.4 1325.5 L762.8 1328.3 L764.3 1338.5" fill="none" stroke="#062DA0" stroke-width="2.0" stroke-linejoin="round" />
<path d="M248.8 1338.8 L291.7 1336.8 L315.5 1361.6 L352.8 1351.6 L367 1343 L380.8 1345 L394 1351 L407.9 1373.1 L423.1 1381.7 L436.3 1387.3 L450.2 1408.1 L463.4 1418.7 L476.6 1424.6 L491.4 1432.9 L508 1439.5 L545.9 1455 L559.1 1452.3 L573.3 1445.7 L588.8 1448.4 L614.6 1454.3 L628.5 1452.3 L641.7 1452 L656.5 1453.3 L681.3 1450.4 L711 1446.4 L737.4 1439.8 L752.3 1437.2 L766.5 1436.2" fill="none" stroke="#000" stroke-width="2.0" stroke-linejoin="round" />
<path d="M258.9 600.7 L265.9 611.4 L251.9 611.4 Z" fill="#20C35A"/>
<path d="M473.3 598.3 L480.3 609.4 L466.3 609.4 Z" fill="#20C35A"/>
<path d="M578 618.6 L585 630.3 L571 630.3 Z" fill="#20C35A"/>
<path d="M258 1016 L265 1027.8 L251 1027.8 Z" fill="#601F22"/>
<path d="M473.3 1084.3 L480.3 1094.5 L466.3 1094.5 Z" fill="#601F22"/>
<path d="M577.2 1122.4 L584.2 1132.5 L570.2 1132.5 Z" fill="#601F22"/>
<path d="M313 256 L255 227" fill="none" stroke="rgba(255,0,0,0.42)" stroke-width="3.7" stroke-linecap="round"/>
<path d="M262.4 237.1 L255 227" fill="none" stroke="rgba(255,0,0,0.42)" stroke-width="3.7" stroke-linecap="round"/>
<path d="M267.5 226.9 L255 227" fill="none" stroke="rgba(255,0,0,0.42)" stroke-width="3.7" stroke-linecap="round"/>
<path d="M566 344.5 L476.5 286.5" fill="none" stroke="rgba(255,0,0,0.42)" stroke-width="3.7" stroke-linecap="round"/>
<path d="M482.8 297.3 L476.5 286.5" fill="none" stroke="rgba(255,0,0,0.42)" stroke-width="3.7" stroke-linecap="round"/>
<path d="M488.9 287.8 L476.5 286.5" fill="none" stroke="rgba(255,0,0,0.42)" stroke-width="3.7" stroke-linecap="round"/>
<path d="M668.6 284 L590 323" fill="none" stroke="rgba(255,0,0,0.42)" stroke-width="3.7" stroke-linecap="round"/>
<path d="M602.5 323.1 L590 323" fill="none" stroke="rgba(255,0,0,0.42)" stroke-width="3.7" stroke-linecap="round"/>
<path d="M597.5 313 L590 323" fill="none" stroke="rgba(255,0,0,0.42)" stroke-width="3.7" stroke-linecap="round"/>
<path d="M332 1277.6 L276 1207.4" fill="none" stroke="rgba(10,50,160,0.66)" stroke-width="4.2" stroke-linecap="round"/>
<path d="M278.5 1219.6 L276 1207.4" fill="none" stroke="rgba(10,50,160,0.66)" stroke-width="4.2" stroke-linecap="round"/>
<path d="M287.4 1212.6 L276 1207.4" fill="none" stroke="rgba(10,50,160,0.66)" stroke-width="4.2" stroke-linecap="round"/>
<path d="M469.8 1241.3 L365.4 1271.8" fill="none" stroke="rgba(10,50,160,0.66)" stroke-width="4.2" stroke-linecap="round"/>
<path d="M377.7 1274.1 L365.4 1271.8" fill="none" stroke="rgba(10,50,160,0.66)" stroke-width="4.2" stroke-linecap="round"/>
<path d="M374.5 1263.2 L365.4 1271.8" fill="none" stroke="rgba(10,50,160,0.66)" stroke-width="4.2" stroke-linecap="round"/>
<path d="M662.8 1341.4 L489.9 1253.8" fill="none" stroke="rgba(10,50,160,0.66)" stroke-width="4.2" stroke-linecap="round"/>
<path d="M497.3 1263.9 L489.9 1253.8" fill="none" stroke="rgba(10,50,160,0.66)" stroke-width="4.2" stroke-linecap="round"/>
<path d="M502.4 1253.8 L489.9 1253.8" fill="none" stroke="rgba(10,50,160,0.66)" stroke-width="4.2" stroke-linecap="round"/>
<path d="M911.3 150.3 L981 158.3 L1072.4 176.8 L1120.8 192.5 L1186.4 218.1 L1257.7 248 L1326 278.9" fill="none" stroke="#B2B2B2" stroke-width="4.6" stroke-linejoin="round" stroke-linecap="round"/>
<path d="M912 135.2 L912.8 145.9 L913.6 148.8 L914.4 146.3 L915.2 132.6 L916 121.6 L916.8 133.5 L917.6 128 L918.4 111.6 L919.2 112 L920 118.3 L920.8 123.2 L921.6 131.2 L922.4 119.1 L923.2 109 L924 97.6 L924.8 114.5 L925.6 139.8 L926.4 144 L927.2 127.1 L928 120 L928.8 113.5 L929.6 112 L930.4 119.3 L931.2 126.4 L932 141.6 L932.8 132.8 L933.6 126 L934.4 104 L935.2 96.5 L936 103 L936.8 100.3 L937.6 98.4 L938.4 116.1 L939.2 131.2 L940 123.9 L940.8 115.2 L941.6 123.1 L942.4 137.6 L943.1 131.5 L943.8 116.3 L944.5 118.4 L945.5 115.3 L946.4 104 L947.2 112 L948 112 L948.8 130.9 L949.6 131.2 L950.4 114.4 L951.2 102.5 L952 95.2 L952.8 101.9 L953.6 105.6 L954.4 111 L955.2 112 L955.9 115.1 L956.6 111.5 L957.3 120 L958.3 125.8 L959.2 131.2 L960 122.3 L960.8 117.7 L961.6 100.8 L962.4 100.2 L963.2 99.8 L964 95.2 L964.8 99.8 L965.6 112 L966.4 140.8 L967.2 144 L968 144.4 L968.8 128 L969.6 134.1 L970.4 132.8 L971.2 126 L972 118.5 L972.8 121.6 L973.6 115.5 L974.4 142.7 L975.2 140.8 L976 138.7 L976.8 128 L977.6 121.7 L978.4 123.2 L979.2 140.1 L980 147.2 L980.8 167.2 L981.6 147.3 L982.4 132.4 L983.2 113.6 L984 107.8 L984.8 128 L985.6 137.4 L986.4 147.2 L987.2 153.5 L988 155.6 L988.8 153.6 L989.6 166.8 L990.4 176 L991.2 186 L992 190.6 L992.8 206.5 L993.6 176.9 L994.4 184 L995.2 178.8 L996 176 L996.8 187.1 L997.6 181.3 L998.4 195.3 L999.2 188.3 L1000 196.1 L1000.8 192.1 L1001.6 177.5 L1002.4 168.7 L1003.2 160 L1004 139.2 L1004.9 129.4 L1005.7 131.2 L1006.5 138 L1007.3 156.8 L1008.4 208.1 L1009 217.2 L1009.7 241.7 L1010.3 222.4 L1010.9 224.1 L1012.1 217.7 L1012.9 241.9 L1013.7 233.7 L1014.5 234.7 L1015.3 227.3 L1016.1 215.7 L1016.9 201.7 L1017.7 201.6 L1018.5 188.9 L1019.3 203.5 L1020.1 182.4 L1020.9 176.6 L1021.7 179.2 L1022.5 173.4 L1023.3 169.6 L1024.1 156.8 L1024.9 140.8 L1025.7 158 L1026.5 169.6 L1027.3 177 L1028.1 187.3 L1028.9 173.2 L1029.7 160 L1030.5 156.7 L1031.3 147.2 L1032.1 135.3 L1032.9 140.8 L1033.7 139.1 L1034.5 121.6 L1035.3 132.9 L1036.1 137.6 L1036.9 143.9 L1037.7 150.4 L1038.5 163.4 L1039.3 140.8 L1040.1 137.5 L1040.9 140.8 L1041.7 150.8 L1042.5 155.2 L1043.3 145.7 L1044.1 148.8 L1044.9 157.4 L1045.7 166.4 L1046.5 168.1 L1047.3 179.2 L1048.1 170.9 L1048.9 169.6 L1049.7 162 L1050.5 160 L1051.3 170.4 L1052.1 166.4 L1052.9 169 L1053.7 158.3 L1054.5 148.8 L1055.3 139.4 L1056.1 160 L1056.9 194.7 L1057.7 163.2 L1058.5 160.3 L1059.3 144.9 L1060.1 129.6 L1060.9 137.7 L1061.7 147.2 L1062.5 136.9 L1063.3 128 L1064.1 129.5 L1064.9 140.8 L1065.7 145.1 L1066.5 150.4 L1067.3 158.7 L1068.1 156.8 L1068.9 161.6 L1069.7 163.2 L1070.5 164.4 L1071.3 151.7 L1072.1 156.8 L1072.9 158.9 L1073.7 169.6 L1074.8 182.4 L1075.4 191.1 L1076.1 192.1 L1076.9 206.6 L1077.7 211.3 L1078.5 209.4 L1079.3 201.7 L1080.1 206 L1080.9 196.9 L1081.7 195.3 L1082.5 204.9 L1083.3 218.4 L1084.1 241.7 L1084.9 224.3 L1085.7 224.1 L1086.5 236.4 L1087.3 248.1 L1088.1 224.8 L1088.9 179.2 L1089.7 186.7 L1090.5 182.4 L1091.3 176.9 L1092.1 224.1 L1092.9 220 L1093.7 219.3 L1094.5 243.7 L1095.3 249.7 L1096.1 271 L1096.9 296.1 L1097.7 285 L1098.5 275.3 L1099.3 283.2 L1100.1 286.8 L1100.9 300.9 L1101.7 305.5 L1102.5 312.1 L1103.6 291.3 L1104.3 278.4 L1104.9 272.1 L1105.7 259.3 L1106.5 249.7 L1107.3 265.4 L1108.1 288.1 L1108.9 279.8 L1109.7 272.1 L1110.5 270.5 L1111.3 249.7 L1112.1 275 L1112.9 296.1 L1113.7 296.9 L1114.5 284.9 L1115.3 286.9 L1116.1 278.5 L1116.9 279.7 L1117.7 284.3 L1118.5 288.1 L1119.3 294.3 L1120.1 305.5 L1120.9 297.7 L1121.7 302.3 L1122.5 283.3 L1123.3 292.6 L1124.1 268.9 L1124.9 272.2 L1125.7 281.7 L1126.5 293.9 L1127.3 292.9 L1128.1 298.6 L1128.9 300.9 L1129.7 320.1 L1130.5 310.5 L1131.3 299.6 L1132.1 288.1 L1132.9 266.7 L1133.7 265.7 L1134.5 271 L1135.3 262.5 L1136.1 263.3 L1136.9 259.3 L1137.9 237 L1138.8 256.1 L1139.5 255.9 L1140.2 256.5 L1140.9 249.7 L1141.7 255.2 L1142.5 254.5 L1143.3 243.8 L1144.1 251.3 L1144.9 268.8 L1145.7 256.1 L1146.5 260.8 L1147.3 264.1 L1148.1 275.9 L1148.9 288.1 L1149.7 271.9 L1150.5 294.5 L1151.3 299.6 L1152.1 299.3 L1152.8 290.9 L1153.5 296.4 L1154.2 292.9 L1155.2 287.8 L1156.1 291.3 L1156.9 288.1 L1157.7 304.6 L1158.5 288.1 L1159.3 294.1 L1160.1 291.6 L1160.9 289.7 L1161.7 291.6 L1162.5 294.5 L1163.3 297.8 L1164.1 297.7 L1164.9 281.8 L1165.7 272.1 L1166.5 241.7 L1167.3 241.7 L1168.1 254.5 L1168.9 256.1 L1169.7 251.9 L1170.5 252.9 L1171.3 266.9 L1172.1 284.9 L1173.1 268.5 L1174.1 264.1 L1174.7 258 L1175.4 252.7 L1176.1 244.9 L1176.9 252.3 L1177.7 264.1 L1178.5 272.3 L1179.3 284.9 L1180 287.4 L1180.7 287.9 L1181.4 276.9 L1182.4 273 L1183.3 272.1 L1184.1 276.9 L1184.9 288.1 L1185.7 283.8 L1186.5 300.9 L1187.3 293.8 L1188.1 291.3 L1188.9 300.7 L1189.7 288.1 L1190.5 277.4 L1191.3 281.8 L1192.1 284.9 L1192.9 288.8 L1193.7 279.9 L1194.5 280.1 L1195.3 281.7 L1196.1 288.1 L1196.9 292.2 L1197.7 291.3 L1198.5 293.8 L1199.3 300.9 L1200.1 307 L1200.9 310.5 L1201.7 283.2 L1202.5 272.1 L1203.3 260.9 L1204.1 240.9 L1204.8 255 L1205.4 264.1 L1206.5 286.5" fill="none" stroke="#FF6400" stroke-width="2.2" stroke-linejoin="round" />
<path d="M912.7 425.4 L914 429.7 L915.5 397 L917 405 L919 398 L921.2 384 L923 400 L925 395 L927 390 L929 398 L931 385 L933.2 378.4 L935 390 L937 382 L939 395 L941 380 L943 385 L945 375 L947 380 L949.8 354 L951 380 L953 370 L955.5 405.5 L957 370 L959 375 L962.6 362.7 L965 358 L967 362 L969.7 355.6 L971 380 L972.6 395.5 L975 385 L977 360 L978.3 354.2 L979.5 365 L981 441 L983 425 L985.4 456.8 L987 430 L989 440 L991 380 L992.5 360 L994 347 L995.5 360 L997 390 L999 440 L1001 420 L1003 455 L1004 445 L1006.2 469.6 L1008 440 L1010 450 L1012 440 L1014 460 L1016 430 L1018.2 409.8 L1020 400 L1021.6 372.7 L1023 385 L1025 375 L1026.7 354.2 L1028 380 L1030 400 L1032.5 426.9 L1034 395 L1036 380 L1038 375 L1040 370 L1042 360 L1044 365 L1046 355 L1048 350 L1049.6 341.3 L1051 360 L1053 420 L1055.3 452.5 L1056.5 440 L1058.1 485.3 L1060 450 L1062 470 L1063.2 489.6 L1065 455 L1067 400 L1069.5 341.3 L1071 350 L1073 345 L1075 360 L1077 410 L1079 440 L1080.5 450 L1082.4 486.7 L1084 460 L1086 470 L1088 465 L1090 455 L1092 458 L1094 440 L1096.6 429.7 L1098 460 L1100.9 483.9 L1100.9 480.4 L1103 463.6 L1104.2 456.9 L1105.6 453.3 L1107 434.3 L1109 442.6 L1110.2 482.7 L1111.5 427 L1113.1 493.1 L1114.8 454.9 L1116.5 463.7 L1118.4 508.5 L1120.1 485.9 L1121.4 505.6 L1123.1 503.9 L1124.7 473.8 L1126.4 478.6 L1128.1 458.7 L1129.8 448.5 L1131.4 461.1 L1133.5 454.9 L1135.5 480.2 L1137.1 459.8 L1138.4 470.5 L1139.9 458.5 L1141 480.1 L1142.9 459.1 L1144.1 456.9 L1146 482.6 L1147.6 457 L1149.3 494 L1151.1 464.5 L1152.5 472.7 L1154.6 428 L1156.2 455.7 L1158 454.4 L1159.3 508.9 L1160.6 477.6 L1161.9 473.2 L1163.1 458 L1164.5 450.6 L1166.4 502.8 L1167.9 468.6 L1169.5 462.4 L1171.3 462.2 L1172.6 447.4 L1173.8 461 L1175.6 452.2 L1177.2 462 L1178.3 463 L1179.4 432.6 L1180.8 429.5 L1182 447.4 L1183.2 494.4 L1184.9 479.8 L1186.5 526 L1188.5 441 L1189.8 465.1 L1191.4 455.7 L1192.7 436.4 L1194.6 467.2 L1195.9 449.2 L1197.1 456.9 L1199.1 474.6 L1200.8 481.3 L1202.7 439 L1204.7 455.1 L1205.9 422 L1207.2 427.6 L1208.7 429 L1210.5 446.2 L1212.4 508.2 L1214.3 460.8 L1215.6 450.2 L1217.6 469.1 L1218.8 474.1 L1220.3 479.6 L1221.7 488.5 L1223.1 437.9 L1224.6 457.6 L1226.7 460.5 L1228 471.7 L1229.3 525.2 L1230.5 489.9 L1232.4 467.3 L1233.9 473.9 L1235.5 437.4 L1237.3 481.1 L1239.1 461.1 L1240.3 486.4 L1241.8 478.1 L1243.6 464.7 L1244.7 496.5 L1246.1 466.3 L1248.1 468.6 L1249.4 492.5 L1251.4 533 L1253.3 467.4 L1254.7 453.2 L1256.3 473.9 L1258 460.3 L1260.1 503.2 L1261.4 471.5 L1262.6 483.8 L1264 481 L1265.8 471 L1267 462.7 L1268.2 497.6 L1270.1 502.3 L1271.3 514.1 L1272.8 470 L1274.4 482.2 L1276 455.7 L1277.3 488.9 L1279.2 535 L1281.1 484.1 L1283.2 470.8 L1285 470.8 L1286.9 477.8 L1288.5 484.9 L1290.5 500.5 L1292.3 473.4 L1293.6 519.2 L1295.1 450 L1296.8 530 L1298.5 469.9 L1299.8 475.5 L1301.7 507.4 L1303.6 468 L1304.8 486.7 L1306.7 490.6 L1308.4 461.2 L1309.9 501.1 L1311.2 524 L1312.4 495.7 L1314.2 471.7 L1316.2 492.7 L1317.8 454.3 L1319 472.9 L1320.3 516.7 L1321.5 487.8 L1322.8 501.5 L1324.1 501" fill="none" stroke="#8E00D0" stroke-width="2.1" stroke-linejoin="round" />
<path d="M912.7 556.6 L917 558 L921.2 565.2 L926 556 L935 559 L940 555 L945 562 L954 542.3 L958 556 L966.3 543.8 L971 557 L974 582.3 L982.5 589.4 L986 578 L989.7 540.9 L996.8 600.8 L1001 602 L1004 598 L1008 596 L1018.2 555.2 L1020 556 L1023.9 535.2 L1032.5 548 L1042.4 529.5 L1045 531 L1052.4 596.5 L1060.4 592.3 L1069.5 529.5 L1072 534 L1079.5 614.2 L1084 613 L1088 615 L1092.3 620 L1097 620.5 L1106 616.5 L1112 621 L1116 621 L1128 617.6 L1134.5 625.6 L1140.8 608.5 L1167.9 620 L1188.7 616.2 L1204 624.2 L1212 620 L1220 623 L1235 619.5 L1250.6 615.4 L1258 620.5 L1272.5 626.2 L1280 622 L1293 621.5 L1306.8 624.2 L1315 615 L1319.9 610.8" fill="none" stroke="#20C35A" stroke-width="2.0" stroke-linejoin="round" />
<path d="M926.1 730.6 L941.2 708.3 L964 692.6 L1008.2 696.9 L1019.6 714 L1023.3 726.8 L1037.6 715.4 L1049 730.3 L1058.1 724 L1069 714 L1082.4 695.5 L1094.3 702 L1102.3 706.9 L1110.9 725.4 L1115.7 734 L1119.4 720.3 L1128 734 L1142.2 752.5 L1155 751 L1164.2 711.2 L1167.9 751 L1170.7 771 L1177.3 763.9 L1187.9 769.6 L1202.1 771.6 L1238.3 803.8 L1249.2 749.7 L1260 799.6 L1264 776.7 L1274.2 801.8" fill="none" stroke="#C98F24" stroke-width="2.2" stroke-linejoin="round" />
<path d="M926.1 724 V738 M921.9 724 h8.5 M921.9 738 h8.5" stroke="#C98F24" stroke-width="1.3" fill="none" opacity="0.85"/>
<circle cx="926.1" cy="730.6" r="1.6" fill="#C98F24"/>
<path d="M941.2 699 V717 M937 699 h8.5 M937 717 h8.5" stroke="#C98F24" stroke-width="1.3" fill="none" opacity="0.85"/>
<circle cx="941.2" cy="708.3" r="1.6" fill="#C98F24"/>
<path d="M964 690 V695 M959.8 690 h8.5 M959.8 695 h8.5" stroke="#C98F24" stroke-width="1.3" fill="none" opacity="0.85"/>
<circle cx="964" cy="692.6" r="1.6" fill="#C98F24"/>
<path d="M1008.2 694 V700 M1004 694 h8.5 M1004 700 h8.5" stroke="#C98F24" stroke-width="1.3" fill="none" opacity="0.85"/>
<circle cx="1008.2" cy="696.9" r="1.6" fill="#C98F24"/>
<path d="M1019.6 711.7 V717 M1015.4 711.7 h8.5 M1015.4 717 h8.5" stroke="#C98F24" stroke-width="1.3" fill="none" opacity="0.85"/>
<circle cx="1019.6" cy="714" r="1.6" fill="#C98F24"/>
<path d="M1023.3 722.6 V730.6 M1019 722.6 h8.5 M1019 730.6 h8.5" stroke="#C98F24" stroke-width="1.3" fill="none" opacity="0.85"/>
<circle cx="1023.3" cy="726.8" r="1.6" fill="#C98F24"/>
<path d="M1037.6 714 V718.3 M1033.3 714 h8.5 M1033.3 718.3 h8.5" stroke="#C98F24" stroke-width="1.3" fill="none" opacity="0.85"/>
<circle cx="1037.6" cy="715.4" r="1.6" fill="#C98F24"/>
<path d="M1049 726.8 V736 M1044.8 726.8 h8.5 M1044.8 736 h8.5" stroke="#C98F24" stroke-width="1.3" fill="none" opacity="0.85"/>
<circle cx="1049" cy="730.3" r="1.6" fill="#C98F24"/>
<path d="M1058.1 720.3 V726.8 M1053.8 720.3 h8.5 M1053.8 726.8 h8.5" stroke="#C98F24" stroke-width="1.3" fill="none" opacity="0.85"/>
<circle cx="1058.1" cy="724" r="1.6" fill="#C98F24"/>
<path d="M1069 710.6 V718.3 M1064.8 710.6 h8.5 M1064.8 718.3 h8.5" stroke="#C98F24" stroke-width="1.3" fill="none" opacity="0.85"/>
<circle cx="1069" cy="714" r="1.6" fill="#C98F24"/>
<path d="M1082.4 693.5 V697.8 M1078.2 693.5 h8.5 M1078.2 697.8 h8.5" stroke="#C98F24" stroke-width="1.3" fill="none" opacity="0.85"/>
<circle cx="1082.4" cy="695.5" r="1.6" fill="#C98F24"/>
<path d="M1094.3 699.8 V705 M1090 699.8 h8.5 M1090 705 h8.5" stroke="#C98F24" stroke-width="1.3" fill="none" opacity="0.85"/>
<circle cx="1094.3" cy="702" r="1.6" fill="#C98F24"/>
<path d="M1102.3 704 V711.2 M1098 704 h8.5 M1098 711.2 h8.5" stroke="#C98F24" stroke-width="1.3" fill="none" opacity="0.85"/>
<circle cx="1102.3" cy="706.9" r="1.6" fill="#C98F24"/>
<path d="M1110.9 718.3 V726.8 M1106.7 718.3 h8.5 M1106.7 726.8 h8.5" stroke="#C98F24" stroke-width="1.3" fill="none" opacity="0.85"/>
<circle cx="1110.9" cy="725.4" r="1.6" fill="#C98F24"/>
<path d="M1115.7 726.8 V736.3 M1111.5 726.8 h8.5 M1111.5 736.3 h8.5" stroke="#C98F24" stroke-width="1.3" fill="none" opacity="0.85"/>
<circle cx="1115.7" cy="734" r="1.6" fill="#C98F24"/>
<path d="M1119.4 718.3 V722.6 M1115.2 718.3 h8.5 M1115.2 722.6 h8.5" stroke="#C98F24" stroke-width="1.3" fill="none" opacity="0.85"/>
<circle cx="1119.4" cy="720.3" r="1.6" fill="#C98F24"/>
<path d="M1128 727.7 V736.8 M1123.8 727.7 h8.5 M1123.8 736.8 h8.5" stroke="#C98F24" stroke-width="1.3" fill="none" opacity="0.85"/>
<circle cx="1128" cy="734" r="1.6" fill="#C98F24"/>
<path d="M1142.2 747.7 V758.2 M1138 747.7 h8.5 M1138 758.2 h8.5" stroke="#C98F24" stroke-width="1.3" fill="none" opacity="0.85"/>
<circle cx="1142.2" cy="752.5" r="1.6" fill="#C98F24"/>
<path d="M1155 744 V759.6 M1150.8 744 h8.5 M1150.8 759.6 h8.5" stroke="#C98F24" stroke-width="1.3" fill="none" opacity="0.85"/>
<circle cx="1155" cy="751" r="1.6" fill="#C98F24"/>
<path d="M1164.2 708.3 V715.4 M1160 708.3 h8.5 M1160 715.4 h8.5" stroke="#C98F24" stroke-width="1.3" fill="none" opacity="0.85"/>
<circle cx="1164.2" cy="711.2" r="1.6" fill="#C98F24"/>
<path d="M1167.9 749.7 V763.9 M1163.7 749.7 h8.5 M1163.7 763.9 h8.5" stroke="#C98F24" stroke-width="1.3" fill="none" opacity="0.85"/>
<circle cx="1167.9" cy="751" r="1.6" fill="#C98F24"/>
<path d="M1170.7 768.2 V775.3 M1166.5 768.2 h8.5 M1166.5 775.3 h8.5" stroke="#C98F24" stroke-width="1.3" fill="none" opacity="0.85"/>
<circle cx="1170.7" cy="771" r="1.6" fill="#C98F24"/>
<path d="M1177.3 759 V769.6 M1173 759 h8.5 M1173 769.6 h8.5" stroke="#C98F24" stroke-width="1.3" fill="none" opacity="0.85"/>
<circle cx="1177.3" cy="763.9" r="1.6" fill="#C98F24"/>
<path d="M1187.9 764.8 V775.3 M1183.7 764.8 h8.5 M1183.7 775.3 h8.5" stroke="#C98F24" stroke-width="1.3" fill="none" opacity="0.85"/>
<circle cx="1187.9" cy="769.6" r="1.6" fill="#C98F24"/>
<path d="M1202.1 731.1 V812.4 M1197.8 731.1 h8.5 M1197.8 812.4 h8.5" stroke="#C98F24" stroke-width="1.3" fill="none" opacity="0.85"/>
<circle cx="1202.1" cy="771.6" r="1.6" fill="#C98F24"/>
<path d="M1238.3 799.6 V808.1 M1234 799.6 h8.5 M1234 808.1 h8.5" stroke="#C98F24" stroke-width="1.3" fill="none" opacity="0.85"/>
<circle cx="1238.3" cy="803.8" r="1.6" fill="#C98F24"/>
<path d="M1249.2 744.8 V753.4 M1245 744.8 h8.5 M1245 753.4 h8.5" stroke="#C98F24" stroke-width="1.3" fill="none" opacity="0.85"/>
<circle cx="1249.2" cy="749.7" r="1.6" fill="#C98F24"/>
<path d="M1260 795.3 V803.8 M1255.8 795.3 h8.5 M1255.8 803.8 h8.5" stroke="#C98F24" stroke-width="1.3" fill="none" opacity="0.85"/>
<circle cx="1260" cy="799.6" r="1.6" fill="#C98F24"/>
<path d="M1264 773.3 V783 M1259.8 773.3 h8.5 M1259.8 783 h8.5" stroke="#C98F24" stroke-width="1.3" fill="none" opacity="0.85"/>
<circle cx="1264" cy="776.7" r="1.6" fill="#C98F24"/>
<path d="M1274.2 797.3 V808.1 M1270 797.3 h8.5 M1270 808.1 h8.5" stroke="#C98F24" stroke-width="1.3" fill="none" opacity="0.85"/>
<circle cx="1274.2" cy="801.8" r="1.6" fill="#C98F24"/>
<path d="M917.8 932.1 L952.6 902.8 L986.8 899.9 L1021 881.4 L1055.8 891.9 L1090 878.8 L1124.6 874.8 L1141.7 867.4 L1159.3 890 L1175.9 911.3 L1193 925.3 L1210.7 929.3 L1227.8 949.2 L1244.9 958.7 L1262 956.1 L1279.7 953.5 L1296.8 953.2 L1313.9 948.4 L1327.6 944.1" fill="none" stroke="#00C6FC" stroke-width="2.6" stroke-linejoin="round" />
<circle cx="917.8" cy="932.1" r="3.6" fill="none" stroke="#00C6FC" stroke-width="2.2"/>
<circle cx="952.6" cy="902.8" r="3.6" fill="none" stroke="#00C6FC" stroke-width="2.2"/>
<circle cx="986.8" cy="899.9" r="3.6" fill="none" stroke="#00C6FC" stroke-width="2.2"/>
<circle cx="1021" cy="881.4" r="3.6" fill="none" stroke="#00C6FC" stroke-width="2.2"/>
<circle cx="1055.8" cy="891.9" r="3.6" fill="none" stroke="#00C6FC" stroke-width="2.2"/>
<circle cx="1090" cy="878.8" r="3.6" fill="none" stroke="#00C6FC" stroke-width="2.2"/>
<circle cx="1124.6" cy="874.8" r="3.6" fill="none" stroke="#00C6FC" stroke-width="2.2"/>
<circle cx="1141.7" cy="867.4" r="3.6" fill="none" stroke="#00C6FC" stroke-width="2.2"/>
<circle cx="1159.3" cy="890" r="3.6" fill="none" stroke="#00C6FC" stroke-width="2.2"/>
<circle cx="1175.9" cy="911.3" r="3.6" fill="none" stroke="#00C6FC" stroke-width="2.2"/>
<circle cx="1193" cy="925.3" r="3.6" fill="none" stroke="#00C6FC" stroke-width="2.2"/>
<circle cx="1210.7" cy="929.3" r="3.6" fill="none" stroke="#00C6FC" stroke-width="2.2"/>
<circle cx="1227.8" cy="949.2" r="3.6" fill="none" stroke="#00C6FC" stroke-width="2.2"/>
<circle cx="1244.9" cy="958.7" r="3.6" fill="none" stroke="#00C6FC" stroke-width="2.2"/>
<circle cx="1262" cy="956.1" r="3.6" fill="none" stroke="#00C6FC" stroke-width="2.2"/>
<circle cx="1279.7" cy="953.5" r="3.6" fill="none" stroke="#00C6FC" stroke-width="2.2"/>
<circle cx="1296.8" cy="953.2" r="3.6" fill="none" stroke="#00C6FC" stroke-width="2.2"/>
<circle cx="1313.9" cy="948.4" r="3.6" fill="none" stroke="#00C6FC" stroke-width="2.2"/>
<circle cx="1327.6" cy="944.1" r="3.6" fill="none" stroke="#00C6FC" stroke-width="2.2"/>
<path d="M913.5 1079.6 L928.4 1071 L943.5 1058.7 L960.3 1058.7 L976.8 1033.1 L993.4 1051 L1009.6 1046.8 L1023.9 1053.3 L1039.6 1042.5 L1055.3 1024.8 L1069 1014 L1083.8 1032.5 L1098 1021.7 L1115.7 1040.2 L1124.3 1036.2 L1135.1 1036.8 L1136.5 1050.5 L1156.5 1052.8 L1170.7 1048.2 L1183.6 1036.8 L1196.4 1064.4 L1197.5 1060 L1211.5 1065.9 L1226.3 1055.6 L1242 1071.9 L1257.7 1072.4 L1272 1077.3 L1283.4 1085.3 L1303.3 1097.2 L1318.4 1108.1" fill="none" stroke="#601F22" stroke-width="2.0" stroke-linejoin="round" />
<path d="M912.1 1264 L915 1241.2 L919.3 1250 L922.7 1286.9 L927 1244 L931.2 1254 L937.8 1261 L941.2 1244 L944.6 1239 L948.3 1272.6 L952 1240.7 L955.5 1260 L959.7 1235.5 L962.6 1229 L966 1241.2 L969.1 1204.7 L972 1249 L976 1232.7 L979.7 1235 L986 1200.8 L988.8 1224 L992 1193.6 L996 1212.7 L998.2 1212.7 L1001 1278.3 L1004.5 1244 L1008.2 1224 L1011.9 1217 L1015.3 1237 L1018.8 1242.7 L1025.3 1201.3 L1028.7 1251.2 L1031.9 1258.4 L1035.3 1249.8 L1039 1231.3 L1042.4 1229.8 L1045.3 1222.7 L1049 1226.4 L1051.8 1201.3 L1055.3 1240.7 L1058.1 1201.9 L1061 1223.6 L1064.7 1176.2 L1068.1 1223.6 L1071 1194.2 L1073.8 1191.3 L1076.7 1217 L1079.5 1214.2 L1082.9 1235.5 L1085.8 1187 L1089.5 1180.8 L1092.3 1199.9 L1098 1211.3 L1101.5 1190 L1104.3 1220.7 L1108 1217.9 L1110.9 1224.7 L1113.7 1216.2 L1118 1219 L1122.3 1214.2 L1126.5 1204.7 L1129.4 1203.6 L1132.8 1255 L1136 1178 L1140.2 1227 L1142.8 1229.8 L1145 1261.2 L1151.6 1186.5 L1155.7 1230.7 L1159.3 1237.8 L1164.5 1217 L1168.7 1256.1 L1171.3 1247 L1175 1201.3 L1177.9 1218.4 L1181.3 1219 L1184.4 1213.3 L1187.9 1259.8 L1190.7 1232.1 L1193.6 1244 L1197.8 1241.2 L1200.7 1258.4 L1204.1 1260.6 L1210.7 1241.8 L1215 1265.5 L1221.2 1228.4 L1225 1257.8 L1231.5 1222.7 L1235 1215 L1238.3 1257.8 L1241.2 1248.4 L1248 1265.5 L1251.6 1240.7 L1256 1234 L1262 1273.2 L1265.1 1233.3 L1269.1 1254.1 L1272.5 1246.4 L1279.1 1259.8 L1282.8 1261.2 L1285.7 1250.4 L1289 1283.4 L1296.2 1249.2 L1303.3 1272.6 L1310.7 1257.8 L1314.7 1269.8 L1317.6 1273.2 L1321 1290.3 L1324.7 1286.3" fill="none" stroke="#062DA0" stroke-width="2.0" stroke-linejoin="round" />
<path d="M917.8 1381.8 L931.2 1381 L945.5 1378.1 L972.6 1377.5 L984 1374.4 L1001.1 1371.3 L1014 1369.8 L1028.2 1373.8 L1042.4 1374.7 L1055.8 1373.6 L1069.5 1379 L1082.9 1377.3 L1096.6 1386.7 L1110.9 1402.6 L1123.7 1407.2 L1138 1411.8 L1151.6 1418 L1165.9 1414.6 L1180.2 1420 L1195 1430.9 L1207 1438 L1220.6 1436.6 L1234.3 1434.6 L1248.6 1423.7 L1262 1414.6 L1276.2 1417.5 L1289.6 1420.9 L1303.9 1428 L1317.6 1436 L1331.9 1438.6" fill="none" stroke="#000" stroke-width="2.0" stroke-linejoin="round" />
<path d="M1025.3 254.3 L985.4 225.3" fill="none" stroke="rgba(255,0,0,0.42)" stroke-width="3.7" stroke-linecap="round"/>
<path d="M991.1 236.4 L985.4 225.3" fill="none" stroke="rgba(255,0,0,0.42)" stroke-width="3.7" stroke-linecap="round"/>
<path d="M997.7 227.3 L985.4 225.3" fill="none" stroke="rgba(255,0,0,0.42)" stroke-width="3.7" stroke-linecap="round"/>
<path d="M1212 328 L1118 328" fill="none" stroke="rgba(255,0,0,0.42)" stroke-width="3.7" stroke-linecap="round"/>
<path d="M1129.1 333.7 L1118 328" fill="none" stroke="rgba(255,0,0,0.42)" stroke-width="3.7" stroke-linecap="round"/>
<path d="M1129.1 322.3 L1118 328" fill="none" stroke="rgba(255,0,0,0.42)" stroke-width="3.7" stroke-linecap="round"/>
<path d="M1012.5 1287.4 L987.4 1254" fill="none" stroke="rgba(10,50,160,0.66)" stroke-width="4.2" stroke-linecap="round"/>
<path d="M989.6 1266.3 L987.4 1254" fill="none" stroke="rgba(10,50,160,0.66)" stroke-width="4.2" stroke-linecap="round"/>
<path d="M998.6 1259.5 L987.4 1254" fill="none" stroke="rgba(10,50,160,0.66)" stroke-width="4.2" stroke-linecap="round"/>
<path d="M1091.8 1252 L1021.6 1296.8" fill="none" stroke="rgba(10,50,160,0.66)" stroke-width="4.2" stroke-linecap="round"/>
<path d="M1034 1295.6 L1021.6 1296.8" fill="none" stroke="rgba(10,50,160,0.66)" stroke-width="4.2" stroke-linecap="round"/>
<path d="M1027.9 1286 L1021.6 1296.8" fill="none" stroke="rgba(10,50,160,0.66)" stroke-width="4.2" stroke-linecap="round"/>
<path d="M1286.8 1313 L1106 1248.4" fill="none" stroke="rgba(10,50,160,0.66)" stroke-width="4.2" stroke-linecap="round"/>
<path d="M1114.6 1257.5 L1106 1248.4" fill="none" stroke="rgba(10,50,160,0.66)" stroke-width="4.2" stroke-linecap="round"/>
<path d="M1118.4 1246.8 L1106 1248.4" fill="none" stroke="rgba(10,50,160,0.66)" stroke-width="4.2" stroke-linecap="round"/>
<path d="M1482.4 197.8 L1591.8 206.8 L1699.7 215.2 L1798.6 221.8 L1897.5 223.3" fill="none" stroke="#B2B2B2" stroke-width="4.6" stroke-linejoin="round" stroke-linecap="round"/>
<path d="M1483.9 122.9 L1484.7 109.3 L1485.4 89.9 L1486.3 85.2 L1487.1 81.9 L1488 75 L1489 79.7 L1490 80 L1491.4 64.4 L1492.2 80.6 L1493 85 L1494 98.1 L1495 75 L1496 76.1 L1497 90 L1497.8 78.5 L1498.5 70 L1499.5 68.2 L1500.4 64.4 L1501.2 77.9 L1502 90 L1503.4 115.4 L1504.2 101.9 L1505 85 L1506 95.1 L1507 95 L1508 99.5 L1509 102 L1509.8 88.6 L1510.5 67 L1511.2 89.5 L1512 90 L1513 80.7 L1514 78 L1514.8 111.4 L1515.5 102 L1516.9 152.8 L1518 145 L1519 168 L1520 164.9 L1521 150 L1521.9 139.1 L1522.9 140.4 L1523.8 136.4 L1524.8 163.2 L1525.9 197.8 L1527 189.1 L1528 170 L1529 178.9 L1530 185 L1531 175.6 L1532 180 L1533 160.9 L1534 160 L1535.1 158.2 L1536.1 134.8 L1537.2 122.9 L1538.1 131.1 L1539 150 L1540 146.7 L1541 167.8 L1542 161.2 L1543 145 L1544 162.7 L1545 155 L1546 167.5 L1547 170 L1548 178.4 L1549 180 L1550 189 L1551 190 L1552 182.3 L1553 175 L1554.1 148 L1555.2 140.8 L1556.1 168.7 L1557 180 L1558 219.5 L1559 195 L1560 192.5 L1561 170 L1562.2 161.1 L1563.3 161.8 L1564.2 176.6 L1565 175 L1566 169.4 L1567 185 L1568 192.6 L1569 200 L1569.9 191.5 L1570.8 212.8 L1571.9 186.1 L1573 185 L1574 196.2 L1575 195 L1576 203.8 L1577 198 L1578 184.5 L1579 170 L1580.2 149.3 L1581.3 137.8 L1582.2 138 L1583.1 140 L1584 140 L1585 136.4 L1586 129 L1587 133.6 L1588 135 L1589.2 130.8 L1590.3 110.9 L1591.2 123 L1592 130 L1593 149.7 L1594 165 L1595 150.4 L1596 145 L1597 139 L1598 138 L1599 124.6 L1600 125 L1601 111.6 L1602 117 L1603 112.1 L1604 110 L1605 107.8 L1606 120 L1607 113.2 L1608 105 L1609 97 L1610 90 L1610.9 66.1 L1611.9 84.5 L1612.8 61.4 L1614 95 L1615 119.1 L1616 122.9 L1617 122.7 L1618 115 L1619 118.2 L1620 110.5 L1621 111 L1622 108.2 L1623 120 L1624 110.1 L1625 105 L1626 91.3 L1627 100 L1628 98.7 L1629 90 L1630 84.7 L1631 85 L1631.9 75.6 L1632.8 78.9 L1633.7 68.9 L1634.8 85.8 L1636 100 L1637 117 L1638 126 L1639 107 L1640 120 L1641 135.1 L1642 135 L1642.9 136.1 L1643.8 142.1 L1644.8 151.4 L1645.7 158.8 L1647 130 L1648 125.4 L1649 108.8 L1650 105 L1651 116.6 L1652 91 L1653 95 L1654.1 95.7 L1655.1 77.2 L1656.2 76.4 L1657.1 80.3 L1658 90 L1659 80.8 L1660 90 L1661 92.9 L1662 110 L1663 121.8 L1664 125.1 L1665 126 L1666 106.7 L1667 115 L1668 101.7 L1669 96 L1670 106.2 L1671 110 L1672 111 L1673 120 L1674 108.5 L1675 105 L1676 108.6 L1677 115 L1678.1 107.2 L1679.1 106.6 L1680.2 88.4 L1681.1 97.1 L1682 110 L1683 113.1 L1684 126 L1685 137.2 L1686 140 L1686.8 155.6 L1687.7 167.8 L1688.8 175.1 L1690 180 L1691.1 187.7 L1692.2 188.8 L1693.1 176.3 L1694.1 185.6 L1695 170 L1696 175.7 L1697 160 L1697.9 158.7 L1698.8 145.2 L1699.7 151.3 L1701 160 L1701.8 168.2 L1702.7 173.8 L1704 200 L1704.8 208.6 L1705.7 218.8 L1706.8 202 L1708 210 L1709 216.3 L1710 220 L1711 210.4 L1712 204 L1713 209.4 L1714 220 L1715 235.2 L1716.1 239.7 L1717 224.3 L1718 230 L1719 224.5 L1720 240 L1721 233.1 L1722 239.6 L1723 236.7 L1724 247.8 L1725 237 L1726 245 L1727 237.6 L1728 250 L1729 247.6 L1730 262 L1730.9 258.6 L1731.7 261.8 L1732.6 283.2 L1734 260 L1735 249.3 L1736 245 L1737 250.4 L1738 250 L1739 236.5 L1740.1 232.2 L1741 243.6 L1742 250 L1743 242.3 L1744 240 L1745 245.2 L1746 260 L1747 251.7 L1748 245 L1749 265.9 L1750 260.7 L1751 263.5 L1752 250 L1753 253.3 L1754 238.3 L1755 240 L1756 243.5 L1757 245 L1757.9 232.6 L1758.7 231.7 L1759.6 227.7 L1760.8 239.2 L1762 255 L1763 262.7 L1764 270 L1764.8 284.7 L1765.6 290.7 L1766.8 266 L1768 270 L1769 259.3 L1770 253 L1771 243.6 L1772 250 L1773 249.9 L1774 265 L1775 272.4 L1776 285 L1777 280.8 L1778.1 293.9 L1779.1 302.7 L1780 306.4 L1781 290 L1782 268 L1783 305 L1784 310.2 L1785.1 320.6 L1786 308.1 L1787 300 L1787.9 284.1 L1788.7 284.4 L1789.6 284.7 L1791 300 L1792.1 314.2 L1793.2 335.6 L1794.1 325.3 L1795 310 L1796.3 299.7 L1797.2 298.9 L1798 290 L1798.9 277.2 L1799.8 274.8 L1800.7 258.7 L1801.6 254.7 L1803 270 L1804 277.1 L1805 284.8 L1806 287.7 L1807.1 240.2 L1808.2 197.8 L1809.1 194.4 L1810 210 L1811 215.2 L1812 190 L1813 179.3 L1814 185 L1815.2 167.2 L1816.5 155.8 L1817.2 169.3 L1818 200 L1819 219.7 L1820 230.7 L1821 197.1 L1822 185 L1822.9 178 L1823.8 166.3 L1824.6 139.9 L1825.5 134.9 L1826.2 148.1 L1827 140 L1828 121.8 L1829 120 L1830 104.2 L1830.9 89.9 L1832 110 L1833 127.6 L1834 125 L1835 144.2 L1836 137.8 L1837 163.2 L1838 180 L1839 202.2 L1839.9 230.7 L1841 200.6 L1842 191.8 L1843 179.4 L1844 181.4 L1845 180 L1846 162.8 L1847 170 L1848.2 173.6 L1849.5 161.8 L1850.8 169.1 L1852 175 L1853 182.1 L1854 195.3 L1855 180 L1856 190.1 L1857 185 L1858 188 L1859 200 L1860 209.9 L1861 218.2 L1862 218.8 L1863 204 L1864 200 L1865 170 L1866.2 146.9 L1867.5 137.8 L1868.8 147.1 L1870 175 L1871 184.5 L1872 190 L1873.2 167.4 L1874.5 215.8 L1875.2 191 L1876 180 L1877 162.3 L1878 155.8 L1879 157.2 L1880 140 L1881.2 138.5 L1882.5 122.9 L1883.2 145.3 L1884 160 L1885 175.5 L1886 188.8 L1886.9 156.7 L1887.8 137.8 L1889 170 L1890 194.8" fill="none" stroke="#FF6400" stroke-width="2.2" stroke-linejoin="round" />
<path d="M1483.9 398.9 L1485.4 385.4 L1487.5 395 L1488.7 404.8 L1489.9 410.9 L1492 392 L1493 391 L1494.2 403.1 L1495.3 413.3 L1497.3 379.4 L1498.7 372.7 L1500 388 L1502 375 L1503.5 379.6 L1505 384 L1507 368 L1509 385 L1510.9 368.9 L1513 390 L1515 395 L1516.3 457.3 L1517 460 L1518.4 494.8 L1519.9 419.9 L1521 450 L1523 440 L1524.5 433.3 L1526 460 L1527 430 L1529 458 L1531 430 L1532.2 458.4 L1533.4 482.8 L1535 466 L1537 475 L1538.2 484.1 L1539.3 499.3 L1541 480 L1543 478 L1544.6 457.8 L1546.2 437.8 L1548 468 L1550 465 L1552 475 L1554 470 L1556 455 L1558 460 L1560 470 L1561.7 442.9 L1563.3 415.4 L1565 476.8 L1567 470 L1568.2 486.5 L1569.3 493.3 L1571 465 L1572.4 445.7 L1573.8 425.9 L1575 455 L1577 470 L1579 442 L1581 450 L1583 465 L1584.3 446.8 L1586 461 L1588 470 L1590 445 L1592 440 L1593.4 425.4 L1594.8 401.9 L1597 425 L1599 437.8 L1601 420 L1603 425 L1605 422 L1607 405 L1609 428.8 L1611 430 L1613 435 L1615.2 446.8 L1617 425 L1619 430 L1621 425 L1623 420 L1625 432 L1627 410 L1629 400 L1631 395 L1633 400 L1635 395 L1637 410 L1639 395 L1641.2 380.9 L1643 400 L1644 420 L1646 410 L1648 395 L1650 385 L1652 380 L1654 400 L1656 390 L1657.6 381.1 L1659.2 374.9 L1661 392.9 L1663 385 L1665 380 L1667 378 L1669 390 L1671 380 L1673 386 L1675 390 L1677 385 L1679 380 L1681 372 L1682.8 371.1 L1684.7 367.4 L1686 385 L1688 378 L1690 375 L1692 370 L1694 362 L1695.5 375 L1697.6 362.9 L1698.9 358.7 L1700.3 355.4 L1702 390 L1704.2 445.3 L1706 445 L1708 443 L1710 460 L1712 475 L1713.3 455 L1714.6 433.4 L1716 470 L1718 455 L1720 480 L1721.5 483.9 L1723 487.3 L1725 460 L1727 450 L1729 478 L1731 470 L1733 490 L1735 470 L1737 475 L1738.5 477.5 L1740 485 L1742 465 L1744 480 L1746 470 L1748.2 436.3 L1750 470 L1752 480 L1754 456 L1755.5 440 L1757 475 L1758.3 496.6 L1759.6 505.3 L1761 480 L1763 470 L1765 488 L1767 470 L1769 495 L1771 480 L1773 470 L1775 490 L1777 465 L1779 480 L1781 470 L1783 485 L1784.8 460.4 L1786.6 436.3 L1788 470 L1789.6 496.3 L1791 475 L1793 465 L1795 490 L1797 476 L1798.6 491.8 L1800 470 L1801.5 462.1 L1803 462 L1805 480 L1807 470 L1809 490 L1811 480 L1813 467 L1815 450 L1817 446.8 L1818.5 436.6 L1820 430 L1822 420 L1823.8 414.3 L1825.5 410.9 L1827 420 L1829 416.9 L1831 398 L1832.5 388.3 L1833.9 392.9 L1835 420 L1837 445 L1839 476.8 L1841 450 L1843 446.8 L1845 455 L1847 448 L1849 445 L1851 449 L1853 440 L1855 448 L1857 445 L1859 437.8 L1861 448 L1863 456.8 L1864.2 475.7 L1865.4 470.8 L1867 460 L1869 509.8 L1871 455 L1873 453 L1875 470 L1877 493.3 L1879 463 L1881 423.4 L1883 450 L1885 437.8 L1887 450 L1889 428.8 L1891 455 L1893 410.9 L1895 420 L1896.5 395.9" fill="none" stroke="#8E00D0" stroke-width="2.0" stroke-linejoin="round" />
<path d="M1484.8 573.3 L1487 568 L1488.5 565.1 L1490 565.2 L1491.5 565.9 L1493 568 L1494.5 567.5 L1496 570 L1497.5 564.9 L1499 564 L1500.5 564 L1502 566 L1503.5 561.6 L1505 560 L1506.5 554.6 L1507.9 551.7 L1510 575 L1511.7 588.6 L1513.3 602.7 L1515 615 L1516.7 619.7 L1518.4 625.1 L1520 627 L1521.5 629.8 L1522.9 628.1 L1525 625 L1526.3 623.5 L1527.7 623.8 L1529 625 L1530.3 626 L1531.7 622.8 L1533 624 L1534.4 623.8 L1535.8 618.5 L1537.2 614 L1538.6 620.7 L1540 620 L1541.5 620.8 L1543 624 L1544.5 626.1 L1546 628 L1547.5 625 L1549 620 L1550.3 618.9 L1551.7 621.3 L1553 618 L1554.5 621.9 L1556 621 L1557.5 622 L1559 622 L1560.3 620.4 L1561.7 617.1 L1563 614 L1564.5 612.9 L1566 610 L1567.7 610.4 L1569.3 610.2 L1570.7 610.3 L1572 612 L1573.3 610.6 L1574.7 609.3 L1576 611 L1577.3 608.2 L1578.7 606.5 L1580 606 L1581.4 603.9 L1582.8 601.2 L1584.4 599.7 L1586 598 L1587.3 597.2 L1588.7 595.7 L1590 596 L1592 586 L1593.4 582.4 L1594.8 574.2 L1597 576 L1598.5 570.2 L1600 572 L1601.3 573.1 L1602.7 572.4 L1604 575 L1605.5 576.3 L1607 580 L1608.4 582.9 L1609.8 587.7 L1612 576 L1613.3 572.6 L1614.7 569.1 L1616 566 L1617.3 564 L1618.7 561.7 L1620 560 L1621.7 557.9 L1623.3 554.7 L1625.2 551.1 L1627 549 L1628.5 547.3 L1630 547 L1631.8 548.6 L1633.7 545.7 L1634.8 543.9 L1636 543 L1638 550 L1640 548 L1642 548 L1643.5 551.2 L1645 550 L1646.5 551.9 L1648 556 L1650 547 L1651.5 548.7 L1653 555 L1654.3 554.8 L1655.7 555.1 L1657 555 L1658.5 553 L1660 550 L1661.5 552.8 L1663 557 L1664.5 554.6 L1666 553 L1667.3 556.5 L1668.7 556.2 L1670 556 L1671.3 559.2 L1672.7 553.9 L1674 553 L1675.3 551.7 L1676.7 558.2 L1678 556 L1679.3 556.2 L1680.7 556.1 L1682 556 L1683.5 553.1 L1685 550 L1686.4 548.6 L1687.8 546 L1689.2 544.2 L1690.6 542.2 L1692 545 L1693.5 547.8 L1695 550 L1697 555 L1699.1 563.7 L1700.5 590 L1702.7 614.7 L1703.8 613.2 L1705 612 L1707 609 L1708.5 608.7 L1710 612 L1711.5 609.3 L1713 608 L1714.5 608.3 L1716 610 L1717.5 609.2 L1719 606 L1720.5 609.6 L1722 610 L1723.5 608.4 L1725 605 L1726.5 608 L1728 612 L1729.5 609.3 L1731 606 L1732.5 606.3 L1734 610 L1735.5 608.5 L1737 605 L1738.5 609.5 L1740 612 L1741.5 610.5 L1743 608 L1744.5 608.7 L1746 613 L1747.5 613.6 L1749 610 L1750.5 610.3 L1752 612 L1753.5 610.7 L1755 608 L1756.5 611.7 L1758 614 L1759.5 613.2 L1761 612 L1762.5 615.9 L1764 615 L1765.5 615.6 L1767 612 L1768.5 611 L1770 615 L1771.3 612.8 L1772.7 607.2 L1774 602.7 L1776 612 L1777.5 618.7 L1779.1 628.1 L1780.5 627.4 L1782 626 L1783.5 627.2 L1785 629 L1786.5 630.8 L1788 631 L1789.5 631.4 L1791 627 L1792.5 628.1 L1794 630 L1795.5 630.4 L1797 627 L1798.5 628.2 L1800 629 L1801.5 631.3 L1803 630 L1804.5 626.4 L1806 628 L1807.5 627.4 L1809 626 L1810.5 628.1 L1812 628 L1813.5 627.7 L1815 626 L1816.5 622 L1818 620 L1820 608 L1821.2 605.5 L1822.5 601.2 L1823.8 597.2 L1825 593 L1826.8 590.6 L1828.5 589.2 L1829.8 592.8 L1831 592 L1832.5 595 L1834 605 L1835.5 613.6 L1837 617 L1838.5 616.8 L1840 622 L1841.5 623.3 L1843 627 L1844.5 628.6 L1846 628 L1847.5 625.6 L1849 626 L1850.5 626.6 L1852 627 L1853.5 627.1 L1855 629 L1856.5 626.7 L1858 625 L1859.5 625.1 L1861 625 L1863 613 L1864.5 617.4 L1866 620 L1867.5 617.8 L1869 617 L1870.5 621.6 L1872 622 L1873.5 623.8 L1875 625 L1877 618 L1878.5 615.8 L1880 615 L1881.2 617.5 L1882.5 620 L1884.2 618.6 L1886 614 L1887.5 611.7 L1889 611 L1890.5 610 L1892 608 L1894 598 L1895.4 590.4 L1896.8 584.7" fill="none" stroke="#20C35A" stroke-width="2.0" stroke-linejoin="round" />
<path d="M1488.4 736.4 L1496.8 709.4 L1507.3 707 L1518.4 715.4 L1527.4 719 L1531 720 L1536.4 726.5 L1554.3 752.2 L1593.3 765.7 L1614.3 749.8 L1620.3 755.8 L1623.2 743.8 L1624.8 734.9 L1627.2 709.4 L1665.2 703.4 L1706.3 725.9 L1711.7 688.4 L1714.6 692.9 L1716.1 701.9 L1717.6 719.9 L1719 734.9 L1720 773.8 L1721.2 830.7 L1723 836.7 L1729.6 839.7 L1737.1 802.3 L1747 815.2 L1764.4 781.3 L1784.5 780.7 L1819.5 782.2 L1825.5 689.9 L1831.5 700 L1839 713 L1843.5 714 L1853.1 704.9 L1860.9 764.2 L1867.5 764.2 L1874.1 734.9 L1882.5 772.3 L1890.6 764.2" fill="none" stroke="#C98F24" stroke-width="2.2" stroke-linejoin="round" />
<path d="M1488.4 734.3 V739.3 M1483.7 734.3 h9.5 M1483.7 739.3 h9.5" stroke="#C98F24" stroke-width="1.3" fill="none" opacity="0.85"/>
<circle cx="1488.4" cy="736.4" r="1.6" fill="#C98F24"/>
<path d="M1496.8 705.5 V711.5 M1492 705.5 h9.5 M1492 711.5 h9.5" stroke="#C98F24" stroke-width="1.3" fill="none" opacity="0.85"/>
<circle cx="1496.8" cy="709.4" r="1.6" fill="#C98F24"/>
<path d="M1507.3 704.9 V709.4 M1502.5 704.9 h9.5 M1502.5 709.4 h9.5" stroke="#C98F24" stroke-width="1.3" fill="none" opacity="0.85"/>
<circle cx="1507.3" cy="707" r="1.6" fill="#C98F24"/>
<path d="M1518.4 711.8 V718.4 M1513.7 711.8 h9.5 M1513.7 718.4 h9.5" stroke="#C98F24" stroke-width="1.3" fill="none" opacity="0.85"/>
<circle cx="1518.4" cy="715.4" r="1.6" fill="#C98F24"/>
<path d="M1527.4 716.9 V722 M1522.7 716.9 h9.5 M1522.7 722 h9.5" stroke="#C98F24" stroke-width="1.3" fill="none" opacity="0.85"/>
<circle cx="1527.4" cy="719" r="1.6" fill="#C98F24"/>
<path d="M1531 717 V722 M1526.2 717 h9.5 M1526.2 722 h9.5" stroke="#C98F24" stroke-width="1.3" fill="none" opacity="0.85"/>
<circle cx="1531" cy="720" r="1.6" fill="#C98F24"/>
<path d="M1536.4 722.9 V730.4 M1531.7 722.9 h9.5 M1531.7 730.4 h9.5" stroke="#C98F24" stroke-width="1.3" fill="none" opacity="0.85"/>
<circle cx="1536.4" cy="726.5" r="1.6" fill="#C98F24"/>
<path d="M1554.3 748.3 V755.8 M1549.5 748.3 h9.5 M1549.5 755.8 h9.5" stroke="#C98F24" stroke-width="1.3" fill="none" opacity="0.85"/>
<circle cx="1554.3" cy="752.2" r="1.6" fill="#C98F24"/>
<path d="M1593.3 764 V767 M1588.5 764 h9.5 M1588.5 767 h9.5" stroke="#C98F24" stroke-width="1.3" fill="none" opacity="0.85"/>
<circle cx="1593.3" cy="765.7" r="1.6" fill="#C98F24"/>
<path d="M1614.3 740.8 V758.8 M1609.5 740.8 h9.5 M1609.5 758.8 h9.5" stroke="#C98F24" stroke-width="1.3" fill="none" opacity="0.85"/>
<circle cx="1614.3" cy="749.8" r="1.6" fill="#C98F24"/>
<path d="M1620.3 746.8 V764.8 M1615.5 746.8 h9.5 M1615.5 764.8 h9.5" stroke="#C98F24" stroke-width="1.3" fill="none" opacity="0.85"/>
<circle cx="1620.3" cy="755.8" r="1.6" fill="#C98F24"/>
<path d="M1623.2 738 V752 M1618.5 738 h9.5 M1618.5 752 h9.5" stroke="#C98F24" stroke-width="1.3" fill="none" opacity="0.85"/>
<circle cx="1623.2" cy="743.8" r="1.6" fill="#C98F24"/>
<path d="M1624.8 728.9 V749.8 M1620 728.9 h9.5 M1620 749.8 h9.5" stroke="#C98F24" stroke-width="1.3" fill="none" opacity="0.85"/>
<circle cx="1624.8" cy="734.9" r="1.6" fill="#C98F24"/>
<path d="M1627.2 692.9 V722.9 M1622.5 692.9 h9.5 M1622.5 722.9 h9.5" stroke="#C98F24" stroke-width="1.3" fill="none" opacity="0.85"/>
<circle cx="1627.2" cy="709.4" r="1.6" fill="#C98F24"/>
<path d="M1665.2 685.4 V722 M1660.5 685.4 h9.5 M1660.5 722 h9.5" stroke="#C98F24" stroke-width="1.3" fill="none" opacity="0.85"/>
<circle cx="1665.2" cy="703.4" r="1.6" fill="#C98F24"/>
<path d="M1706.3 713.9 V738.4 M1701.5 713.9 h9.5 M1701.5 738.4 h9.5" stroke="#C98F24" stroke-width="1.3" fill="none" opacity="0.85"/>
<circle cx="1706.3" cy="725.9" r="1.6" fill="#C98F24"/>
<path d="M1711.7 685.4 V692.3 M1707 685.4 h9.5 M1707 692.3 h9.5" stroke="#C98F24" stroke-width="1.3" fill="none" opacity="0.85"/>
<circle cx="1711.7" cy="688.4" r="1.6" fill="#C98F24"/>
<path d="M1714.6 689 V697 M1709.8 689 h9.5 M1709.8 697 h9.5" stroke="#C98F24" stroke-width="1.3" fill="none" opacity="0.85"/>
<circle cx="1714.6" cy="692.9" r="1.6" fill="#C98F24"/>
<path d="M1716.1 696 V706 M1711.3 696 h9.5 M1711.3 706 h9.5" stroke="#C98F24" stroke-width="1.3" fill="none" opacity="0.85"/>
<circle cx="1716.1" cy="701.9" r="1.6" fill="#C98F24"/>
<path d="M1717.6 710 V728 M1712.8 710 h9.5 M1712.8 728 h9.5" stroke="#C98F24" stroke-width="1.3" fill="none" opacity="0.85"/>
<circle cx="1717.6" cy="719.9" r="1.6" fill="#C98F24"/>
<path d="M1719 725 V745 M1714.2 725 h9.5 M1714.2 745 h9.5" stroke="#C98F24" stroke-width="1.3" fill="none" opacity="0.85"/>
<circle cx="1719" cy="734.9" r="1.6" fill="#C98F24"/>
<path d="M1720 765 V782 M1715.2 765 h9.5 M1715.2 782 h9.5" stroke="#C98F24" stroke-width="1.3" fill="none" opacity="0.85"/>
<circle cx="1720" cy="773.8" r="1.6" fill="#C98F24"/>
<path d="M1721.2 800 V850 M1716.5 800 h9.5 M1716.5 850 h9.5" stroke="#C98F24" stroke-width="1.3" fill="none" opacity="0.85"/>
<circle cx="1721.2" cy="830.7" r="1.6" fill="#C98F24"/>
<path d="M1723 818.8 V856.2 M1718.2 818.8 h9.5 M1718.2 856.2 h9.5" stroke="#C98F24" stroke-width="1.3" fill="none" opacity="0.85"/>
<circle cx="1723" cy="836.7" r="1.6" fill="#C98F24"/>
<path d="M1729.6 817.3 V862.2 M1724.8 817.3 h9.5 M1724.8 862.2 h9.5" stroke="#C98F24" stroke-width="1.3" fill="none" opacity="0.85"/>
<circle cx="1729.6" cy="839.7" r="1.6" fill="#C98F24"/>
<path d="M1737.1 785.8 V818.8 M1732.3 785.8 h9.5 M1732.3 818.8 h9.5" stroke="#C98F24" stroke-width="1.3" fill="none" opacity="0.85"/>
<circle cx="1737.1" cy="802.3" r="1.6" fill="#C98F24"/>
<path d="M1747 787.3 V842.7 M1742.2 787.3 h9.5 M1742.2 842.7 h9.5" stroke="#C98F24" stroke-width="1.3" fill="none" opacity="0.85"/>
<circle cx="1747" cy="815.2" r="1.6" fill="#C98F24"/>
<path d="M1764.4 764.2 V799.3 M1759.7 764.2 h9.5 M1759.7 799.3 h9.5" stroke="#C98F24" stroke-width="1.3" fill="none" opacity="0.85"/>
<circle cx="1764.4" cy="781.3" r="1.6" fill="#C98F24"/>
<path d="M1784.5 768.7 V793.3 M1779.8 768.7 h9.5 M1779.8 793.3 h9.5" stroke="#C98F24" stroke-width="1.3" fill="none" opacity="0.85"/>
<circle cx="1784.5" cy="780.7" r="1.6" fill="#C98F24"/>
<path d="M1819.5 779.8 V785.2 M1814.8 779.8 h9.5 M1814.8 785.2 h9.5" stroke="#C98F24" stroke-width="1.3" fill="none" opacity="0.85"/>
<circle cx="1819.5" cy="782.2" r="1.6" fill="#C98F24"/>
<path d="M1825.5 687.5 V692.9 M1820.8 687.5 h9.5 M1820.8 692.9 h9.5" stroke="#C98F24" stroke-width="1.3" fill="none" opacity="0.85"/>
<circle cx="1825.5" cy="689.9" r="1.6" fill="#C98F24"/>
<path d="M1831.5 697 V703 M1826.8 697 h9.5 M1826.8 703 h9.5" stroke="#C98F24" stroke-width="1.3" fill="none" opacity="0.85"/>
<circle cx="1831.5" cy="700" r="1.6" fill="#C98F24"/>
<path d="M1839 710.9 V715.4 M1834.2 710.9 h9.5 M1834.2 715.4 h9.5" stroke="#C98F24" stroke-width="1.3" fill="none" opacity="0.85"/>
<circle cx="1839" cy="713" r="1.6" fill="#C98F24"/>
<path d="M1843.5 711 V716 M1838.8 711 h9.5 M1838.8 716 h9.5" stroke="#C98F24" stroke-width="1.3" fill="none" opacity="0.85"/>
<circle cx="1843.5" cy="714" r="1.6" fill="#C98F24"/>
<path d="M1853.1 689 V721.4 M1848.3 689 h9.5 M1848.3 721.4 h9.5" stroke="#C98F24" stroke-width="1.3" fill="none" opacity="0.85"/>
<circle cx="1853.1" cy="704.9" r="1.6" fill="#C98F24"/>
<path d="M1860.9 754.3 V773.2 M1856.2 754.3 h9.5 M1856.2 773.2 h9.5" stroke="#C98F24" stroke-width="1.3" fill="none" opacity="0.85"/>
<circle cx="1860.9" cy="764.2" r="1.6" fill="#C98F24"/>
<path d="M1867.5 737.8 V789.4 M1862.8 737.8 h9.5 M1862.8 789.4 h9.5" stroke="#C98F24" stroke-width="1.3" fill="none" opacity="0.85"/>
<circle cx="1867.5" cy="764.2" r="1.6" fill="#C98F24"/>
<path d="M1874.1 704.3 V764.8 M1869.3 704.3 h9.5 M1869.3 764.8 h9.5" stroke="#C98F24" stroke-width="1.3" fill="none" opacity="0.85"/>
<circle cx="1874.1" cy="734.9" r="1.6" fill="#C98F24"/>
<path d="M1882.5 749.8 V794.2 M1877.8 749.8 h9.5 M1877.8 794.2 h9.5" stroke="#C98F24" stroke-width="1.3" fill="none" opacity="0.85"/>
<circle cx="1882.5" cy="772.3" r="1.6" fill="#C98F24"/>
<path d="M1890.6 751.3 V778.3 M1885.8 751.3 h9.5 M1885.8 778.3 h9.5" stroke="#C98F24" stroke-width="1.3" fill="none" opacity="0.85"/>
<circle cx="1890.6" cy="764.2" r="1.6" fill="#C98F24"/>
<path d="M1717 700 V712 M1712.2 700 h9.5 M1712.2 712 h9.5" stroke="#C98F24" stroke-width="1.2" fill="none" opacity="0.8"/>
<path d="M1718 715 V725 M1713.2 715 h9.5 M1713.2 725 h9.5" stroke="#C98F24" stroke-width="1.2" fill="none" opacity="0.8"/>
<path d="M1719 728 V738 M1714.2 728 h9.5 M1714.2 738 h9.5" stroke="#C98F24" stroke-width="1.2" fill="none" opacity="0.8"/>
<path d="M1720 745 V752 M1715.2 745 h9.5 M1715.2 752 h9.5" stroke="#C98F24" stroke-width="1.2" fill="none" opacity="0.8"/>
<path d="M1720.5 756 V762 M1715.8 756 h9.5 M1715.8 762 h9.5" stroke="#C98F24" stroke-width="1.2" fill="none" opacity="0.8"/>
<path d="M1721 790 V798 M1716.2 790 h9.5 M1716.2 798 h9.5" stroke="#C98F24" stroke-width="1.2" fill="none" opacity="0.8"/>
<path d="M1721.5 805 V812 M1716.8 805 h9.5 M1716.8 812 h9.5" stroke="#C98F24" stroke-width="1.2" fill="none" opacity="0.8"/>
<path d="M1722 812 V820 M1717.2 812 h9.5 M1717.2 820 h9.5" stroke="#C98F24" stroke-width="1.2" fill="none" opacity="0.8"/>
<path d="M1722.5 822 V830 M1717.8 822 h9.5 M1717.8 830 h9.5" stroke="#C98F24" stroke-width="1.2" fill="none" opacity="0.8"/>
<path d="M1723.5 832 V842 M1718.8 832 h9.5 M1718.8 842 h9.5" stroke="#C98F24" stroke-width="1.2" fill="none" opacity="0.8"/>
<path d="M1718.5 690 V700 M1713.8 690 h9.5 M1713.8 700 h9.5" stroke="#C98F24" stroke-width="1.2" fill="none" opacity="0.8"/>
<path d="M1504.3 973.5 L1527.4 955.8 L1549.2 953.7 L1571.4 967.8 L1594.2 969 L1616.4 960.9 L1638.8 958.2 L1661.3 927 L1683.2 936.3 L1705.1 910.9 L1728.1 911.5 L1749.7 924.1 L1764.4 927.3 L1772.5 906.1 L1781.2 921.1 L1789.6 930 L1798.6 939 L1807 937.8 L1815.6 958.8 L1824 956.4 L1833 963.9 L1841.4 954.3 L1850.1 942.3 L1858.5 944.7 L1866 951.3 L1874.1 950.7 L1882.5 947.7 L1891.5 942" fill="none" stroke="#00C6FC" stroke-width="2.6" stroke-linejoin="round" />
<circle cx="1504.3" cy="973.5" r="3.6" fill="none" stroke="#00C6FC" stroke-width="2.2"/>
<circle cx="1527.4" cy="955.8" r="3.6" fill="none" stroke="#00C6FC" stroke-width="2.2"/>
<circle cx="1549.2" cy="953.7" r="3.6" fill="none" stroke="#00C6FC" stroke-width="2.2"/>
<circle cx="1571.4" cy="967.8" r="3.6" fill="none" stroke="#00C6FC" stroke-width="2.2"/>
<circle cx="1594.2" cy="969" r="3.6" fill="none" stroke="#00C6FC" stroke-width="2.2"/>
<circle cx="1616.4" cy="960.9" r="3.6" fill="none" stroke="#00C6FC" stroke-width="2.2"/>
<circle cx="1638.8" cy="958.2" r="3.6" fill="none" stroke="#00C6FC" stroke-width="2.2"/>
<circle cx="1661.3" cy="927" r="3.6" fill="none" stroke="#00C6FC" stroke-width="2.2"/>
<circle cx="1683.2" cy="936.3" r="3.6" fill="none" stroke="#00C6FC" stroke-width="2.2"/>
<circle cx="1705.1" cy="910.9" r="3.6" fill="none" stroke="#00C6FC" stroke-width="2.2"/>
<circle cx="1728.1" cy="911.5" r="3.6" fill="none" stroke="#00C6FC" stroke-width="2.2"/>
<circle cx="1749.7" cy="924.1" r="3.6" fill="none" stroke="#00C6FC" stroke-width="2.2"/>
<circle cx="1764.4" cy="927.3" r="3.6" fill="none" stroke="#00C6FC" stroke-width="2.2"/>
<circle cx="1772.5" cy="906.1" r="3.6" fill="none" stroke="#00C6FC" stroke-width="2.2"/>
<circle cx="1781.2" cy="921.1" r="3.6" fill="none" stroke="#00C6FC" stroke-width="2.2"/>
<circle cx="1789.6" cy="930" r="3.6" fill="none" stroke="#00C6FC" stroke-width="2.2"/>
<circle cx="1798.6" cy="939" r="3.6" fill="none" stroke="#00C6FC" stroke-width="2.2"/>
<circle cx="1807" cy="937.8" r="3.6" fill="none" stroke="#00C6FC" stroke-width="2.2"/>
<circle cx="1815.6" cy="958.8" r="3.6" fill="none" stroke="#00C6FC" stroke-width="2.2"/>
<circle cx="1824" cy="956.4" r="3.6" fill="none" stroke="#00C6FC" stroke-width="2.2"/>
<circle cx="1833" cy="963.9" r="3.6" fill="none" stroke="#00C6FC" stroke-width="2.2"/>
<circle cx="1841.4" cy="954.3" r="3.6" fill="none" stroke="#00C6FC" stroke-width="2.2"/>
<circle cx="1850.1" cy="942.3" r="3.6" fill="none" stroke="#00C6FC" stroke-width="2.2"/>
<circle cx="1858.5" cy="944.7" r="3.6" fill="none" stroke="#00C6FC" stroke-width="2.2"/>
<circle cx="1866" cy="951.3" r="3.6" fill="none" stroke="#00C6FC" stroke-width="2.2"/>
<circle cx="1874.1" cy="950.7" r="3.6" fill="none" stroke="#00C6FC" stroke-width="2.2"/>
<circle cx="1882.5" cy="947.7" r="3.6" fill="none" stroke="#00C6FC" stroke-width="2.2"/>
<circle cx="1891.5" cy="942" r="3.6" fill="none" stroke="#00C6FC" stroke-width="2.2"/>
<path d="M1507.3 1143.7 L1517.8 1160.2 L1546.8 1146.1 L1565.7 1109.9 L1595.4 1123.3 L1611.3 1101.2 L1637.6 1083.8 L1658.3 1074.2 L1661.3 1065.2 L1681.7 1051.7 L1698.2 1048.1 L1701.2 1064.3 L1704.2 1091.3 L1708.6 1087 L1712.6 1100.3 L1726.6 1082.3 L1733.2 1081.7 L1750 1116.7 L1756.6 1101.2 L1763.5 1109.3 L1769.2 1077.2 L1774 1076.3 L1780.6 1078.4 L1787.5 1076.3 L1791.1 1113.1 L1795 1113.7 L1800 1128.7 L1803 1118.2 L1806 1137.7 L1813 1121.2 L1817.4 1140.1 L1825.5 1143.1 L1829.4 1140.1 L1838.4 1156.3 L1843.5 1150.6 L1887 1138.3" fill="none" stroke="#601F22" stroke-width="2.0" stroke-linejoin="round" />
<path d="M1483.9 1258.4 L1485.3 1273.9 L1486.3 1292.1 L1487.1 1303 L1488 1273.4 L1489.2 1296.4 L1490.1 1275.1 L1491.4 1294.2 L1492.5 1266.6 L1493.4 1265 L1494.6 1260.6 L1495.5 1267 L1496.7 1273 L1497.5 1245.5 L1498.9 1276.4 L1499.9 1257.3 L1500.7 1269.6 L1501.8 1229.9 L1502.7 1273.5 L1503.7 1284.3 L1504.8 1262.7 L1505.8 1277.6 L1507.2 1236 L1508.5 1220.9 L1509.8 1264.6 L1511 1282.6 L1512 1264.9 L1513 1305.5 L1513.8 1268.9 L1515.1 1288.6 L1516.4 1270.6 L1517.3 1293.9 L1518.7 1252.2 L1519.6 1291 L1520.7 1273.8 L1521.9 1259.2 L1523.2 1283.6 L1524.3 1254.7 L1525.4 1255.4 L1526.4 1270.9 L1527.4 1298.4 L1528.3 1267 L1529.7 1261.7 L1530.9 1291 L1531.8 1266.8 L1532.7 1250 L1534 1242 L1535.1 1274.5 L1536.5 1284.8 L1537.5 1226 L1538.9 1271.3 L1539.8 1269.6 L1540.5 1279.9 L1541.7 1276.5 L1543.1 1248 L1544.3 1262.6 L1545.3 1288.9 L1546.8 1285.1 L1547.6 1294.3 L1548.6 1275 L1549.6 1289.4 L1550.5 1287.4 L1551.7 1272.8 L1552.5 1267.9 L1553.4 1263.4 L1554.5 1235 L1555.8 1268.4 L1557.2 1273.2 L1558.5 1270.9 L1559.9 1288.7 L1560.9 1282.5 L1562 1273.4 L1563.3 1277.8 L1564.6 1275.9 L1565.6 1285.9 L1566.4 1274.4 L1567.5 1280 L1568.7 1287.7 L1570 1309.5 L1571.2 1305.5 L1572 1268.7 L1573.3 1320 L1574.5 1275.8 L1575.6 1310.7 L1576.7 1269.1 L1577.8 1269.9 L1578.7 1289.5 L1580.1 1271.4 L1581.5 1300.3 L1582.3 1266.2 L1583.3 1260.6 L1584.4 1285 L1585.4 1305.5 L1586.7 1322 L1587.5 1303.7 L1588.5 1278.1 L1589.4 1303.8 L1590.4 1295 L1591.6 1283.8 L1592.5 1284.9 L1593.4 1272.9 L1594.3 1281.1 L1595.6 1282.3 L1597 1260.5 L1598.3 1327 L1599.7 1258.7 L1600.6 1296.2 L1601.5 1281.8 L1602.8 1281.5 L1603.8 1285.5 L1604.7 1306.7 L1605.8 1246.2 L1606.6 1264.7 L1607.9 1248.3 L1609.2 1256.7 L1610.3 1277.1 L1611.6 1279.1 L1612.5 1308.1 L1613.7 1267.6 L1614.7 1296.3 L1615.8 1271.2 L1616.9 1260.8 L1618.3 1276.5 L1619.5 1312 L1620.8 1258.4 L1622.1 1271.7 L1623.2 1251.2 L1624.5 1299.5 L1625.5 1302.2 L1626.9 1274.7 L1627.7 1300 L1628.4 1304.6 L1629.7 1278.8 L1630.8 1294 L1631.8 1259.5 L1632.8 1258.5 L1633.8 1261.9 L1634.9 1282.9 L1636.2 1232 L1637.1 1272.5 L1638.1 1286.7 L1639.3 1280.6 L1640.3 1284 L1641.3 1260.5 L1642.3 1266 L1643.3 1288 L1644.3 1218.8 L1645.7 1291.1 L1646.4 1258.1 L1647.8 1276.8 L1649.2 1247.2 L1650.3 1299.9 L1651.3 1265.9 L1652.2 1247.5 L1653.1 1277.4 L1654.2 1288.5 L1655.2 1237.1 L1656.5 1268.8 L1657.6 1287.5 L1659 1257.7 L1659.8 1255.3 L1660.6 1247 L1661.4 1280.7 L1662.7 1285.1 L1664 1259.5 L1665 1271.9 L1666.1 1254 L1667.1 1263 L1667.9 1254.1 L1669.2 1264.1 L1670.1 1239.3 L1671.3 1269.7 L1672.7 1260.8 L1673.8 1254.6 L1674.9 1232.7 L1676.2 1278.8 L1677.1 1245.2 L1678 1258.5 L1679.4 1249 L1680.6 1273.5 L1682 1230.4 L1683.3 1266.2 L1684.6 1287.9 L1685.5 1258.7 L1686.6 1235.6 L1687.9 1255 L1689.3 1236.8 L1690.7 1245.6 L1692.1 1239.8 L1693.3 1242.5 L1694.5 1214 L1695.8 1251.8 L1697 1261.5 L1698.2 1238.9 L1699.6 1200 L1700.6 1245.2 L1701.9 1251.9 L1703.1 1228.4 L1703.9 1246.5 L1705.2 1253.7 L1706.3 1238.3 L1707.1 1228.6 L1708.5 1186 L1709.8 1239.4 L1710.9 1228.2 L1711.8 1217.5 L1712.8 1243.8 L1713.8 1197 L1714.8 1243.2 L1716.1 1243.2 L1717.2 1229.7 L1718.1 1241.1 L1719.5 1236.1 L1720.8 1226.1 L1721.6 1227.1 L1722.4 1228.5 L1723.6 1183.4 L1725 1251.2 L1726.3 1218.7 L1727.3 1231.2 L1728.1 1233.8 L1729.3 1227.9 L1730.6 1297 L1731.7 1228.3 L1732.9 1224.4 L1733.8 1283.9 L1734.8 1246.7 L1735.8 1243.6 L1737.2 1244.6 L1738.5 1245.3 L1739.9 1241.3 L1741.2 1260.1 L1742.6 1247.6 L1743.5 1228.9 L1744.6 1240.4 L1745.6 1247.4 L1746.5 1257.9 L1747.6 1243.9 L1748.4 1256.3 L1749.4 1273.2 L1750.3 1235.1 L1751.5 1242.6 L1752.7 1233.5 L1754.1 1274.5 L1755 1223.9 L1755.8 1252.7 L1756.7 1248.8 L1757.7 1249.8 L1759 1254.2 L1760 1271.7 L1760.8 1249.5 L1761.7 1218 L1762.7 1238.7 L1764.1 1253 L1765.3 1257.1 L1766.7 1298 L1767.6 1249.8 L1768.7 1273.3 L1770 1249.3 L1771.3 1238.5 L1772.7 1266.8 L1774 1255.1 L1775.1 1250.6 L1776.5 1288.6 L1777.6 1257.4 L1779 1272.4 L1780 1263.4 L1781 1280.8 L1781.9 1276.2 L1783.2 1253.3 L1784.3 1215 L1785.7 1253.4 L1786.9 1252.3 L1788 1280.5 L1789 1277.2 L1789.8 1293.5 L1790.8 1267.5 L1791.6 1252.4 L1792.7 1249.2 L1793.9 1278.3 L1795.1 1299.6 L1796.4 1286 L1797.3 1242.4 L1798.5 1305.3 L1799.7 1267 L1800.5 1253.1 L1801.7 1267.5 L1802.7 1275.2 L1803.8 1270.7 L1804.8 1253.3 L1805.9 1278.9 L1807 1296.1 L1808.3 1217 L1809.1 1276.4 L1810 1267.6 L1811.4 1286.8 L1812.8 1284.1 L1814.1 1260.6 L1815.4 1269.6 L1816.2 1263 L1817.2 1335 L1818.6 1302 L1819.8 1282.1 L1821.3 1264.3 L1822.2 1288.9 L1823.5 1281 L1824.6 1283.2 L1825.8 1277.5 L1827 1238 L1828.4 1276.6 L1829.3 1304.1 L1830.6 1263.4 L1831.6 1305.3 L1832.5 1269.4 L1833.5 1272 L1834.9 1260.9 L1836 1254.4 L1837.2 1287.1 L1838.6 1277.3 L1839.6 1291.9 L1840.9 1303.5 L1842 1271.7 L1842.9 1258.8 L1843.8 1249.6 L1844.7 1272.5 L1845.8 1280.6 L1847 1284.5 L1847.8 1261.7 L1848.8 1294.5 L1850.2 1283.3 L1851.5 1276.7 L1852.6 1244.1 L1853.6 1278.2 L1855 1281.4 L1855.9 1263.3 L1857 1271.5 L1858.3 1253.3 L1859.7 1233 L1861.1 1306.7 L1862.3 1286.4 L1863.7 1293.9 L1864.4 1292.5 L1865.7 1232 L1866.5 1259.8 L1868 1289.5 L1868.8 1317 L1869.7 1281.8 L1870.5 1258.7 L1871.5 1286.8 L1872.4 1262.5 L1873.7 1287.4 L1874.8 1270.6 L1876.1 1273.1 L1877.1 1296 L1878.3 1280.9 L1879.2 1299.4 L1880.6 1263.2 L1881.6 1274.9 L1882.5 1275.5 L1883.4 1296 L1884.3 1280.8 L1885.2 1295.6 L1886.3 1271.7 L1887.3 1291.5 L1888.3 1262.9 L1889.5 1290.8 L1890.3 1267.3 L1891.7 1243 L1892.8 1276.6 L1893.8 1273.6 L1894.9 1275.9 L1895.9 1316" fill="none" stroke="#062DA0" stroke-width="2.1" stroke-linejoin="round" />
<path d="M1483.9 1423.7 L1497.4 1419.5 L1510.9 1421.6 L1524.4 1421.6 L1537.8 1426.1 L1552.2 1432.1 L1566.3 1428.8 L1579.8 1428.8 L1593.3 1425.8 L1608.3 1420.7 L1621.8 1416.2 L1635.2 1409.6 L1648.7 1396.7 L1662.2 1393.7 L1676.3 1389.8 L1689.2 1391.3 L1702.7 1394.6 L1717.6 1397.6 L1731.1 1393.1 L1746.1 1401.2 L1759.6 1412.6 L1773.1 1419.5 L1786.6 1427.6 L1800 1436.3 L1813.5 1440.2 L1827.9 1447.7 L1842 1445.6 L1855.5 1443.2 L1869 1437.2 L1883.1 1430.6 L1897.5 1426.7" fill="none" stroke="#000" stroke-width="2.0" stroke-linejoin="round" />
<path d="M1514.8 633.3 L1521.8 644.2 L1507.8 644.2 Z" fill="#20C35A"/>
<path d="M1700.6 618.6 L1707.6 630 L1693.6 630 Z" fill="#20C35A"/>
<path d="M1776.4 635 L1783.4 646.4 L1769.4 646.4 Z" fill="#20C35A"/>
<path d="M1697.6 1095.8 L1704.6 1106.9 L1690.6 1106.9 Z" fill="#601F22"/>
<path d="M1790.5 1122.7 L1797.5 1133.2 L1783.5 1133.2 Z" fill="#601F22"/>
<path d="M1591.8 239.7 L1536.4 210.7" fill="none" stroke="rgba(255,0,0,0.42)" stroke-width="3.7" stroke-linecap="round"/>
<path d="M1543.6 220.9 L1536.4 210.7" fill="none" stroke="rgba(255,0,0,0.42)" stroke-width="3.7" stroke-linecap="round"/>
<path d="M1548.9 210.8 L1536.4 210.7" fill="none" stroke="rgba(255,0,0,0.42)" stroke-width="3.7" stroke-linecap="round"/>
<path d="M1774.6 325.1 L1716.7 284.7" fill="none" stroke="rgba(255,0,0,0.42)" stroke-width="3.7" stroke-linecap="round"/>
<path d="M1722.6 295.7 L1716.7 284.7" fill="none" stroke="rgba(255,0,0,0.42)" stroke-width="3.7" stroke-linecap="round"/>
<path d="M1729.1 286.4 L1716.7 284.7" fill="none" stroke="rgba(255,0,0,0.42)" stroke-width="3.7" stroke-linecap="round"/>
<path d="M1824 266.7 L1805.5 331.1" fill="none" stroke="rgba(255,0,0,0.42)" stroke-width="3.7" stroke-linecap="round"/>
<path d="M1814 322 L1805.5 331.1" fill="none" stroke="rgba(255,0,0,0.42)" stroke-width="3.7" stroke-linecap="round"/>
<path d="M1803.1 318.8 L1805.5 331.1" fill="none" stroke="rgba(255,0,0,0.42)" stroke-width="3.7" stroke-linecap="round"/>
<path d="M1580.7 1333.8 L1534.9 1302.3" fill="none" stroke="rgba(10,50,160,0.66)" stroke-width="4.2" stroke-linecap="round"/>
<path d="M1540.9 1313.3 L1534.9 1302.3" fill="none" stroke="rgba(10,50,160,0.66)" stroke-width="4.2" stroke-linecap="round"/>
<path d="M1547.3 1303.9 L1534.9 1302.3" fill="none" stroke="rgba(10,50,160,0.66)" stroke-width="4.2" stroke-linecap="round"/>
<path d="M1690.7 1298.4 L1603.2 1332.9" fill="none" stroke="rgba(10,50,160,0.66)" stroke-width="4.2" stroke-linecap="round"/>
<path d="M1615.6 1334.1 L1603.2 1332.9" fill="none" stroke="rgba(10,50,160,0.66)" stroke-width="4.2" stroke-linecap="round"/>
<path d="M1611.5 1323.5 L1603.2 1332.9" fill="none" stroke="rgba(10,50,160,0.66)" stroke-width="4.2" stroke-linecap="round"/>
<path d="M1798 1329.9 L1701.2 1291.9" fill="none" stroke="rgba(10,50,160,0.66)" stroke-width="4.2" stroke-linecap="round"/>
<path d="M1709.5 1301.3 L1701.2 1291.9" fill="none" stroke="rgba(10,50,160,0.66)" stroke-width="4.2" stroke-linecap="round"/>
<path d="M1713.6 1290.7 L1701.2 1291.9" fill="none" stroke="rgba(10,50,160,0.66)" stroke-width="4.2" stroke-linecap="round"/>
<path d="M203.6 40.9 H774.4 V1514.8 H203.6 Z" fill="none" stroke="#000" stroke-width="3.1" stroke-linejoin="round"/>
<path d="M203.6 41 h17.2" stroke="#000" stroke-width="2.3"/>
<text x="192.4" y="47.8" font-size="19" text-anchor="end">-9</text>
<path d="M203.6 110.3 h17.2" stroke="#000" stroke-width="2.3"/>
<text x="192.4" y="117.1" font-size="19" text-anchor="end">-8</text>
<path d="M203.6 179 h17.2" stroke="#000" stroke-width="2.3"/>
<text x="192.4" y="185.8" font-size="19" text-anchor="end">-7</text>
<path d="M203.6 248 h17.2" stroke="#000" stroke-width="2.3"/>
<text x="192.4" y="254.8" font-size="19" text-anchor="end">-6</text>
<path d="M203.6 290.2 h15.5" stroke="#000" stroke-width="2.3"/>
<text x="192.4" y="297" font-size="19" text-anchor="end">-36</text>
<path d="M203.6 356 h15.5" stroke="#000" stroke-width="2.3"/>
<text x="192.4" y="362.8" font-size="19" text-anchor="end">-39</text>
<path d="M203.6 421.6 h15.5" stroke="#000" stroke-width="2.3"/>
<text x="192.4" y="428.4" font-size="19" text-anchor="end">-42</text>
<path d="M203.6 487.4 h15.5" stroke="#000" stroke-width="2.3"/>
<text x="192.4" y="494.2" font-size="19" text-anchor="end">-45</text>
<path d="M203.6 680 h15.5" stroke="#000" stroke-width="2.3"/>
<text x="192.4" y="686.8" font-size="19" text-anchor="end">0.06</text>
<path d="M203.6 744.3 h15.5" stroke="#000" stroke-width="2.3"/>
<text x="192.4" y="751.1" font-size="19" text-anchor="end">0.08</text>
<path d="M203.6 808.7 h15.5" stroke="#000" stroke-width="2.3"/>
<text x="192.4" y="815.5" font-size="19" text-anchor="end">0.1</text>
<path d="M203.6 930.6 h15.5" stroke="#000" stroke-width="2.3"/>
<text x="192.4" y="937.4" font-size="19" text-anchor="end">280</text>
<path d="M203.6 989.5 h15.5" stroke="#000" stroke-width="2.3"/>
<text x="192.4" y="996.3" font-size="19" text-anchor="end">260</text>
<path d="M203.6 1048.7 h15.5" stroke="#000" stroke-width="2.3"/>
<text x="192.4" y="1055.5" font-size="19" text-anchor="end">240</text>
<path d="M203.6 1107.9 h15.5" stroke="#000" stroke-width="2.3"/>
<text x="192.4" y="1114.7" font-size="19" text-anchor="end">220</text>
<path d="M203.6 1166.5 h15.5" stroke="#000" stroke-width="2.3"/>
<text x="192.4" y="1173.3" font-size="19" text-anchor="end">200</text>
<path d="M203.6 1337.1 h15.5" stroke="#000" stroke-width="2.3"/>
<text x="192.4" y="1343.9" font-size="19" text-anchor="end">75</text>
<path d="M203.6 1372.4 h15.5" stroke="#000" stroke-width="2.3"/>
<text x="192.4" y="1379.2" font-size="19" text-anchor="end">90</text>
<path d="M203.6 1407.8 h15.5" stroke="#000" stroke-width="2.3"/>
<text x="192.4" y="1414.6" font-size="19" text-anchor="end">105</text>
<path d="M203.6 1443.1 h15.5" stroke="#000" stroke-width="2.3"/>
<text x="192.4" y="1449.9" font-size="19" text-anchor="end">120</text>
<path d="M758.4 102.4 h16" stroke="#000" stroke-width="2.3"/>
<text x="783.9" y="109.2" font-size="19">460</text>
<path d="M758.4 157.5 h16" stroke="#000" stroke-width="2.3"/>
<text x="783.9" y="164.3" font-size="19">450</text>
<path d="M758.4 211.5 h16" stroke="#000" stroke-width="2.3"/>
<text x="783.9" y="218.3" font-size="19">440</text>
<path d="M758.4 265.9 h16" stroke="#000" stroke-width="2.3"/>
<text x="783.9" y="272.7" font-size="19">430</text>
<path d="M758.4 320 h16" stroke="#000" stroke-width="2.3"/>
<text x="783.9" y="326.8" font-size="19">420</text>
<path d="M758.4 513.8 h16" stroke="#000" stroke-width="2.3"/>
<text x="783.9" y="520.6" font-size="19">640</text>
<path d="M758.4 552.9 h16" stroke="#000" stroke-width="2.3"/>
<text x="783.9" y="559.7" font-size="19">560</text>
<path d="M758.4 592.5 h16" stroke="#000" stroke-width="2.3"/>
<text x="783.9" y="599.3" font-size="19">480</text>
<path d="M758.4 631.7 h16" stroke="#000" stroke-width="2.3"/>
<text x="783.9" y="638.5" font-size="19">400</text>
<path d="M758.4 832.8 h16" stroke="#000" stroke-width="2.3"/>
<text x="783.9" y="839.6" font-size="19">6</text>
<path d="M758.4 857.4 h16" stroke="#000" stroke-width="2.3"/>
<path d="M758.4 882.1 h16" stroke="#000" stroke-width="2.3"/>
<text x="783.9" y="888.9" font-size="19">4</text>
<path d="M758.4 906.8 h16" stroke="#000" stroke-width="2.3"/>
<path d="M758.4 931.4 h16" stroke="#000" stroke-width="2.3"/>
<text x="783.9" y="938.2" font-size="19">2</text>
<path d="M758.4 956.1 h16" stroke="#000" stroke-width="2.3"/>
<path d="M758.4 980.8 h16" stroke="#000" stroke-width="2.3"/>
<text x="783.9" y="987.6" font-size="19">0</text>
<path d="M758.4 1159.5 h16" stroke="#000" stroke-width="2.3"/>
<text x="783.9" y="1166.3" font-size="19">-390</text>
<path d="M758.4 1212.3 h16" stroke="#000" stroke-width="2.3"/>
<text x="783.9" y="1219.1" font-size="19">-405</text>
<path d="M758.4 1265.1 h16" stroke="#000" stroke-width="2.3"/>
<text x="783.9" y="1271.9" font-size="19">-420</text>
<path d="M758.4 1317.6 h16" stroke="#000" stroke-width="2.3"/>
<text x="783.9" y="1324.4" font-size="19">-435</text>
<path d="M758.4 1369.8 h16" stroke="#000" stroke-width="2.3"/>
<text x="783.9" y="1376.6" font-size="19">-450</text>
<path d="M215 1514.8 v-16" stroke="#000" stroke-width="2.3"/>
<text x="215" y="1541.8" font-size="19" text-anchor="middle">11</text>
<path d="M283.9 1514.8 v-16" stroke="#000" stroke-width="2.3"/>
<text x="283.9" y="1541.8" font-size="19" text-anchor="middle">12</text>
<path d="M352.9 1514.8 v-16" stroke="#000" stroke-width="2.3"/>
<text x="352.9" y="1541.8" font-size="19" text-anchor="middle">13</text>
<path d="M421.9 1514.8 v-16" stroke="#000" stroke-width="2.3"/>
<text x="421.9" y="1541.8" font-size="19" text-anchor="middle">14</text>
<path d="M490.8 1514.8 v-16" stroke="#000" stroke-width="2.3"/>
<text x="490.8" y="1541.8" font-size="19" text-anchor="middle">15</text>
<path d="M559.8 1514.8 v-16" stroke="#000" stroke-width="2.3"/>
<text x="559.8" y="1541.8" font-size="19" text-anchor="middle">16</text>
<path d="M628.7 1514.8 v-16" stroke="#000" stroke-width="2.3"/>
<text x="628.7" y="1541.8" font-size="19" text-anchor="middle">17</text>
<path d="M697.7 1514.8 v-16" stroke="#000" stroke-width="2.3"/>
<text x="697.7" y="1541.8" font-size="19" text-anchor="middle">18</text>
<path d="M766.6 1514.8 v-16" stroke="#000" stroke-width="2.3"/>
<text x="766.6" y="1541.8" font-size="19" text-anchor="middle">19</text>
<path d="M892.7 40.9 H1345.4 V1514.8 H892.7 Z" fill="none" stroke="#000" stroke-width="3.1" stroke-linejoin="round"/>
<path d="M892.7 62.7 h15.5" stroke="#000" stroke-width="2.3"/>
<text x="881.5" y="69.5" font-size="19" text-anchor="end">-10</text>
<path d="M892.7 131.7 h15.5" stroke="#000" stroke-width="2.3"/>
<text x="881.5" y="138.5" font-size="19" text-anchor="end">-9</text>
<path d="M892.7 200.7 h15.5" stroke="#000" stroke-width="2.3"/>
<text x="881.5" y="207.5" font-size="19" text-anchor="end">-8</text>
<path d="M892.7 269.2 h15.5" stroke="#000" stroke-width="2.3"/>
<text x="881.5" y="276" font-size="19" text-anchor="end">-7</text>
<path d="M892.7 306.3 h20" stroke="#000" stroke-width="2.3"/>
<text x="881.5" y="313.1" font-size="19" text-anchor="end">-36</text>
<path d="M892.7 371.8 h20" stroke="#000" stroke-width="2.3"/>
<text x="881.5" y="378.6" font-size="19" text-anchor="end">-39</text>
<path d="M892.7 437.4 h20" stroke="#000" stroke-width="2.3"/>
<text x="881.5" y="444.2" font-size="19" text-anchor="end">-42</text>
<path d="M892.7 503 h20" stroke="#000" stroke-width="2.3"/>
<text x="881.5" y="509.8" font-size="19" text-anchor="end">-45</text>
<path d="M892.7 705.5 h15.5" stroke="#000" stroke-width="2.3"/>
<text x="881.5" y="712.3" font-size="19" text-anchor="end">0.06</text>
<path d="M892.7 769.6 h15.5" stroke="#000" stroke-width="2.3"/>
<text x="881.5" y="776.4" font-size="19" text-anchor="end">0.08</text>
<path d="M892.7 833.2 h15.5" stroke="#000" stroke-width="2.3"/>
<text x="881.5" y="840" font-size="19" text-anchor="end">0.1</text>
<path d="M892.7 992.6 h15.5" stroke="#000" stroke-width="2.3"/>
<text x="881.5" y="999.4" font-size="19" text-anchor="end">240</text>
<path d="M892.7 1066.7 h15.5" stroke="#000" stroke-width="2.3"/>
<text x="881.5" y="1073.5" font-size="19" text-anchor="end">220</text>
<path d="M892.7 1140.3 h15.5" stroke="#000" stroke-width="2.3"/>
<text x="881.5" y="1147.1" font-size="19" text-anchor="end">200</text>
<path d="M892.7 1366.7 h15.5" stroke="#000" stroke-width="2.3"/>
<text x="881.5" y="1373.5" font-size="19" text-anchor="end">60</text>
<path d="M892.7 1401.8 h15.5" stroke="#000" stroke-width="2.3"/>
<text x="881.5" y="1408.6" font-size="19" text-anchor="end">75</text>
<path d="M892.7 1437.1 h15.5" stroke="#000" stroke-width="2.3"/>
<text x="881.5" y="1443.9" font-size="19" text-anchor="end">90</text>
<path d="M892.7 1472.2 h15.5" stroke="#000" stroke-width="2.3"/>
<text x="881.5" y="1479" font-size="19" text-anchor="end">105</text>
<path d="M1329.4 149 h16" stroke="#000" stroke-width="2.3"/>
<text x="1354.9" y="155.8" font-size="19">460</text>
<path d="M1329.4 203.9 h16" stroke="#000" stroke-width="2.3"/>
<text x="1354.9" y="210.7" font-size="19">450</text>
<path d="M1329.4 258 h16" stroke="#000" stroke-width="2.3"/>
<text x="1354.9" y="264.8" font-size="19">440</text>
<path d="M1329.4 311.5 h16" stroke="#000" stroke-width="2.3"/>
<text x="1354.9" y="318.3" font-size="19">430</text>
<path d="M1329.4 366.1 h16" stroke="#000" stroke-width="2.3"/>
<text x="1354.9" y="372.9" font-size="19">420</text>
<path d="M1329.4 533.8 h16" stroke="#000" stroke-width="2.3"/>
<text x="1354.9" y="540.6" font-size="19">600</text>
<path d="M1329.4 582.9 h16" stroke="#000" stroke-width="2.3"/>
<text x="1354.9" y="589.7" font-size="19">500</text>
<path d="M1329.4 632.2 h16" stroke="#000" stroke-width="2.3"/>
<text x="1354.9" y="639" font-size="19">400</text>
<path d="M1329.4 858.6 h16" stroke="#000" stroke-width="2.3"/>
<text x="1354.9" y="865.4" font-size="19">2</text>
<path d="M1329.4 897.5 h16" stroke="#000" stroke-width="2.3"/>
<path d="M1329.4 937 h16" stroke="#000" stroke-width="2.3"/>
<text x="1354.9" y="943.8" font-size="19">1</text>
<path d="M1329.4 976.3 h16" stroke="#000" stroke-width="2.3"/>
<path d="M1329.4 1206.2 h16" stroke="#000" stroke-width="2.3"/>
<text x="1354.9" y="1213" font-size="19">-420</text>
<path d="M1329.4 1279.7 h16" stroke="#000" stroke-width="2.3"/>
<text x="1354.9" y="1286.5" font-size="19">-435</text>
<path d="M912 1514.8 v-16" stroke="#000" stroke-width="2.3"/>
<text x="912" y="1541.8" font-size="19" text-anchor="middle">57</text>
<path d="M980.9 1514.8 v-16" stroke="#000" stroke-width="2.3"/>
<text x="980.9" y="1541.8" font-size="19" text-anchor="middle">58</text>
<path d="M1049.8 1514.8 v-16" stroke="#000" stroke-width="2.3"/>
<text x="1049.8" y="1541.8" font-size="19" text-anchor="middle">59</text>
<path d="M1118.7 1514.8 v-16" stroke="#000" stroke-width="2.3"/>
<text x="1118.7" y="1541.8" font-size="19" text-anchor="middle">60</text>
<path d="M1187.6 1514.8 v-16" stroke="#000" stroke-width="2.3"/>
<text x="1187.6" y="1541.8" font-size="19" text-anchor="middle">61</text>
<path d="M1256.5 1514.8 v-16" stroke="#000" stroke-width="2.3"/>
<text x="1256.5" y="1541.8" font-size="19" text-anchor="middle">62</text>
<path d="M1325.4 1514.8 v-16" stroke="#000" stroke-width="2.3"/>
<text x="1325.4" y="1541.8" font-size="19" text-anchor="middle">63</text>
<path d="M1467.7 40.9 H1915.5 V1514.8 H1467.7 Z" fill="none" stroke="#000" stroke-width="3.1" stroke-linejoin="round"/>
<path d="M1467.7 65.9 h15.5" stroke="#000" stroke-width="2.3"/>
<text x="1456.5" y="72.7" font-size="19" text-anchor="end">-10</text>
<path d="M1467.7 134.9 h15.5" stroke="#000" stroke-width="2.3"/>
<text x="1456.5" y="141.7" font-size="19" text-anchor="end">-9</text>
<path d="M1467.7 203.8 h15.5" stroke="#000" stroke-width="2.3"/>
<text x="1456.5" y="210.6" font-size="19" text-anchor="end">-8</text>
<path d="M1467.7 272.7 h15.5" stroke="#000" stroke-width="2.3"/>
<text x="1456.5" y="279.5" font-size="19" text-anchor="end">-7</text>
<path d="M1467.7 324.9 h20" stroke="#000" stroke-width="2.3"/>
<text x="1456.5" y="331.7" font-size="19" text-anchor="end">-36</text>
<path d="M1467.7 383.9 h20" stroke="#000" stroke-width="2.3"/>
<text x="1456.5" y="390.7" font-size="19" text-anchor="end">-39</text>
<path d="M1467.7 442.9 h20" stroke="#000" stroke-width="2.3"/>
<text x="1456.5" y="449.7" font-size="19" text-anchor="end">-42</text>
<path d="M1467.7 502.3 h20" stroke="#000" stroke-width="2.3"/>
<text x="1456.5" y="509.1" font-size="19" text-anchor="end">-45</text>
<path d="M1467.7 701.3 h15.5" stroke="#000" stroke-width="2.3"/>
<text x="1456.5" y="708.1" font-size="19" text-anchor="end">0.06</text>
<path d="M1467.7 764.8 h15.5" stroke="#000" stroke-width="2.3"/>
<text x="1456.5" y="771.6" font-size="19" text-anchor="end">0.08</text>
<path d="M1467.7 829.2 h15.5" stroke="#000" stroke-width="2.3"/>
<text x="1456.5" y="836" font-size="19" text-anchor="end">0.1</text>
<path d="M1467.7 1049.9 h15.5" stroke="#000" stroke-width="2.3"/>
<text x="1456.5" y="1056.7" font-size="19" text-anchor="end">220</text>
<path d="M1467.7 1148.2 h15.5" stroke="#000" stroke-width="2.3"/>
<text x="1456.5" y="1155" font-size="19" text-anchor="end">200</text>
<path d="M1467.7 1372.2 h15.5" stroke="#000" stroke-width="2.3"/>
<text x="1456.5" y="1379" font-size="19" text-anchor="end">60</text>
<path d="M1467.7 1408.1 h15.5" stroke="#000" stroke-width="2.3"/>
<text x="1456.5" y="1414.9" font-size="19" text-anchor="end">75</text>
<path d="M1467.7 1443.2 h15.5" stroke="#000" stroke-width="2.3"/>
<text x="1456.5" y="1450" font-size="19" text-anchor="end">90</text>
<path d="M1467.7 1479.1 h15.5" stroke="#000" stroke-width="2.3"/>
<text x="1456.5" y="1485.9" font-size="19" text-anchor="end">105</text>
<path d="M1899.5 95.9 h16" stroke="#000" stroke-width="2.3"/>
<text x="1925" y="102.7" font-size="19">460</text>
<path d="M1899.5 149.8 h16" stroke="#000" stroke-width="2.3"/>
<text x="1925" y="156.6" font-size="19">450</text>
<path d="M1899.5 203.8 h16" stroke="#000" stroke-width="2.3"/>
<text x="1925" y="210.6" font-size="19">440</text>
<path d="M1899.5 257.7 h16" stroke="#000" stroke-width="2.3"/>
<text x="1925" y="264.5" font-size="19">430</text>
<path d="M1899.5 311.7 h16" stroke="#000" stroke-width="2.3"/>
<text x="1925" y="318.5" font-size="19">420</text>
<path d="M1899.5 533.7 h16" stroke="#000" stroke-width="2.3"/>
<text x="1925" y="540.5" font-size="19">600</text>
<path d="M1899.5 582.6 h16" stroke="#000" stroke-width="2.3"/>
<text x="1925" y="589.4" font-size="19">500</text>
<path d="M1899.5 632 h16" stroke="#000" stroke-width="2.3"/>
<text x="1925" y="638.8" font-size="19">400</text>
<path d="M1899.5 897.4 h16" stroke="#000" stroke-width="2.3"/>
<text x="1925" y="904.2" font-size="19">1.5</text>
<path d="M1899.5 927.3 h16" stroke="#000" stroke-width="2.3"/>
<path d="M1899.5 957 h16" stroke="#000" stroke-width="2.3"/>
<text x="1925" y="963.8" font-size="19">1</text>
<path d="M1899.5 986.4 h16" stroke="#000" stroke-width="2.3"/>
<path d="M1899.5 1015.7 h16" stroke="#000" stroke-width="2.3"/>
<text x="1925" y="1022.5" font-size="19">0.5</text>
<path d="M1899.5 1195 h16" stroke="#000" stroke-width="2.3"/>
<text x="1925" y="1201.8" font-size="19">-52</text>
<path d="M1899.5 1244.5 h16" stroke="#000" stroke-width="2.3"/>
<text x="1925" y="1251.3" font-size="19">-54</text>
<path d="M1899.5 1294.3 h16" stroke="#000" stroke-width="2.3"/>
<text x="1925" y="1301.1" font-size="19">-56</text>
<path d="M1483.3 1514.8 v-16" stroke="#000" stroke-width="2.3"/>
<text x="1483.3" y="1541.8" font-size="19" text-anchor="middle">35</text>
<path d="M1552.2 1514.8 v-16" stroke="#000" stroke-width="2.3"/>
<text x="1552.2" y="1541.8" font-size="19" text-anchor="middle">36</text>
<path d="M1621.1 1514.8 v-16" stroke="#000" stroke-width="2.3"/>
<text x="1621.1" y="1541.8" font-size="19" text-anchor="middle">37</text>
<path d="M1690.1 1514.8 v-16" stroke="#000" stroke-width="2.3"/>
<text x="1690.1" y="1541.8" font-size="19" text-anchor="middle">38</text>
<path d="M1759 1514.8 v-16" stroke="#000" stroke-width="2.3"/>
<text x="1759" y="1541.8" font-size="19" text-anchor="middle">39</text>
<path d="M1827.9 1514.8 v-16" stroke="#000" stroke-width="2.3"/>
<text x="1827.9" y="1541.8" font-size="19" text-anchor="middle">40</text>
<path d="M1896.8 1514.8 v-16" stroke="#000" stroke-width="2.3"/>
<text x="1896.8" y="1541.8" font-size="19" text-anchor="middle">41</text>
<text x="494.5" y="18.2" font-size="24.4" text-anchor="middle" font-weight="bold" fill="#000">Termination I</text>
<text x="1131.6" y="18.2" font-size="24.4" text-anchor="middle" font-weight="bold" fill="#000">MIS4/3 Transition</text>
<text x="1698" y="18.2" font-size="24.4" text-anchor="middle" font-weight="bold" fill="#000">HS4/DO8 Transition</text>
<text x="490.6" y="1562.6" font-size="19" text-anchor="middle" font-weight="normal" fill="#000">Age (ka BP)</text>
<text x="1118.8" y="1562.6" font-size="19" text-anchor="middle" font-weight="normal" fill="#000">Age (ka BP)</text>
<text x="1689.9" y="1562.6" font-size="19" text-anchor="middle" font-weight="normal" fill="#000">Age (ka BP)</text>
<text x="0" y="96.2" font-size="19" text-anchor="start" font-weight="bold" fill="#000">a</text>
<text x="0" y="117.5" font-size="19" text-anchor="start" font-weight="bold" fill="#FF6400">Monsoon</text>
<text x="0" y="138.7" font-size="19" text-anchor="start" font-weight="bold" fill="#FF6400">intensity</text>
<text x="0" y="202.7" font-size="19" text-anchor="start" font-weight="bold" fill="#000">b</text>
<text x="0" y="224.3" font-size="19" text-anchor="start" font-weight="bold" fill="#939393">Solar</text>
<text x="0" y="245.7" font-size="19" text-anchor="start" font-weight="bold" fill="#939393">insolation</text>
<text x="0" y="331.5" font-size="19" text-anchor="start" font-weight="bold" fill="#000">c</text>
<text x="0" y="352.8" font-size="19" text-anchor="start" font-weight="bold" fill="#8E00D0">Greenland</text>
<text x="0" y="373.8" font-size="19" text-anchor="start" font-weight="bold" fill="#8E00D0">temperature</text>
<text x="0" y="523.6" font-size="19" text-anchor="start" font-weight="bold" fill="#000">d</text>
<text x="0" y="545.2" font-size="19" text-anchor="start" font-weight="bold" fill="#20C35A">CH<tspan font-size="12" dy="4.6">4</tspan></text>
<text x="0" y="569.6" font-size="19" text-anchor="start" font-weight="bold" fill="#20C35A">concentration</text>
<text x="0" y="719.6" font-size="19" text-anchor="start" font-weight="bold" fill="#000">e</text>
<text x="0" y="740.6" font-size="19" text-anchor="start" font-weight="bold" fill="#C98F24">AMOC</text>
<text x="0" y="761.8" font-size="19" text-anchor="start" font-weight="bold" fill="#C98F24">intensity</text>
<text x="0" y="868.8" font-size="19" text-anchor="start" font-weight="bold" fill="#000">f</text>
<text x="0" y="890.7" font-size="19" text-anchor="start" font-weight="bold" fill="#00C6FC">SO upwelling</text>
<text x="0" y="995.8" font-size="19" text-anchor="start" font-weight="bold" fill="#000">g</text>
<text x="0" y="1018.8" font-size="19" text-anchor="start" font-weight="bold" fill="#601F22">CO<tspan font-size="12" dy="4.6">2</tspan></text>
<text x="0" y="1043.4" font-size="19" text-anchor="start" font-weight="bold" fill="#601F22">concentration</text>
<text x="0" y="1171.8" font-size="19" text-anchor="start" font-weight="bold" fill="#000">h</text>
<text x="0" y="1193.4" font-size="19" text-anchor="start" font-weight="bold" fill="#062DA0">Antarctic</text>
<text x="0" y="1214.9" font-size="19" text-anchor="start" font-weight="bold" fill="#062DA0">temperature</text>
<text x="0" y="1299.8" font-size="19" text-anchor="start" font-weight="bold" fill="#000">i</text>
<text x="0" y="1321.6" font-size="19" text-anchor="start" font-weight="bold" fill="#000">Ice volume</text>
<text x="169.4" y="144" font-size="19" text-anchor="middle" transform="rotate(-90 169.4 144)">Stalagmite δ<tspan font-size="13" dy="-7">18</tspan><tspan dy="7">O (‰, VPDB)</tspan></text>
<text x="156.8" y="388.7" font-size="19" text-anchor="middle" transform="rotate(-90 156.8 388.7)">δ<tspan font-size="13" dy="-7">18</tspan><tspan dy="7">O (‰, VSMOW)</tspan></text>
<text x="147.1" y="744.7" font-size="19" text-anchor="middle" transform="rotate(-90 147.1 744.7)">Pa/Th</text>
<text x="147.1" y="1047.5" font-size="19" text-anchor="middle" transform="rotate(-90 147.1 1047.5)">CO<tspan font-size="13" dy="4">2</tspan><tspan dy="-4"> (ppm)</tspan></text>
<text x="153.2" y="1395" font-size="19" text-anchor="middle" transform="rotate(-90 153.2 1395)">Red Sea sea level (mbsl)</text>
<text x="830.2" y="1258" font-size="19" text-anchor="middle" transform="rotate(90 830.2 1258)">δD (‰, VSMOW)</text>
<text x="1400.2" y="1255" font-size="19" text-anchor="middle" transform="rotate(90 1400.2 1255)">δD (‰, VSMOW)</text>
<text x="1967.1" y="200.8" font-size="19" text-anchor="middle" transform="rotate(90 1967.1 200.8)">Solar insolation at 65°N</text>
<text x="1968.6" y="584" font-size="19" text-anchor="middle" transform="rotate(90 1968.6 584)">CH<tspan font-size="13" dy="4">4</tspan><tspan dy="-4"> (ppb)</tspan></text>
<text x="1982" y="958" font-size="19" text-anchor="middle" transform="rotate(90 1982 958)">Opal Flux</text>
<text x="1959.6" y="957" font-size="19" text-anchor="middle" transform="rotate(90 1959.6 957)">(g cm<tspan font-size="13" dy="-7">-2</tspan><tspan dy="7"> kyr</tspan><tspan font-size="13" dy="-7">-1</tspan><tspan dy="7">)</tspan></text>
<text x="1961.1" y="1244" font-size="19" text-anchor="middle" transform="rotate(90 1961.1 1244)">δ<tspan font-size="13" dy="-7">18</tspan><tspan dy="7">O (‰, VSMOW)</tspan></text>
<text x="391.7" y="194.2" font-size="19" text-anchor="middle" transform="rotate(-90 391.7 194.2)">A</text>
<text x="434.8" y="186" font-size="19" text-anchor="middle" transform="rotate(-90 434.8 186)">OD</text>
<text x="456.3" y="194.2" font-size="19" text-anchor="middle" transform="rotate(-90 456.3 194.2)">B</text>
<text x="1062.1" y="224" font-size="19" text-anchor="middle" transform="rotate(-90 1062.1 224)">A-4/3</text>
<text x="1093.4" y="151.8" font-size="19" text-anchor="middle" transform="rotate(-90 1093.4 151.8)">OD-4/3</text>
<text x="1094.8" y="270" font-size="19" text-anchor="middle" transform="rotate(-90 1094.8 270)">B-4/3</text>
<text x="1634.6" y="168.5" font-size="19" text-anchor="middle" transform="rotate(-90 1634.6 168.5)">A'</text>
<text x="1657" y="176.8" font-size="19" text-anchor="middle" transform="rotate(-90 1657 176.8)">OD'</text>
<text x="1678" y="166.3" font-size="19" text-anchor="middle" transform="rotate(-90 1678 166.3)">B'</text>
</svg>
</body></html>
